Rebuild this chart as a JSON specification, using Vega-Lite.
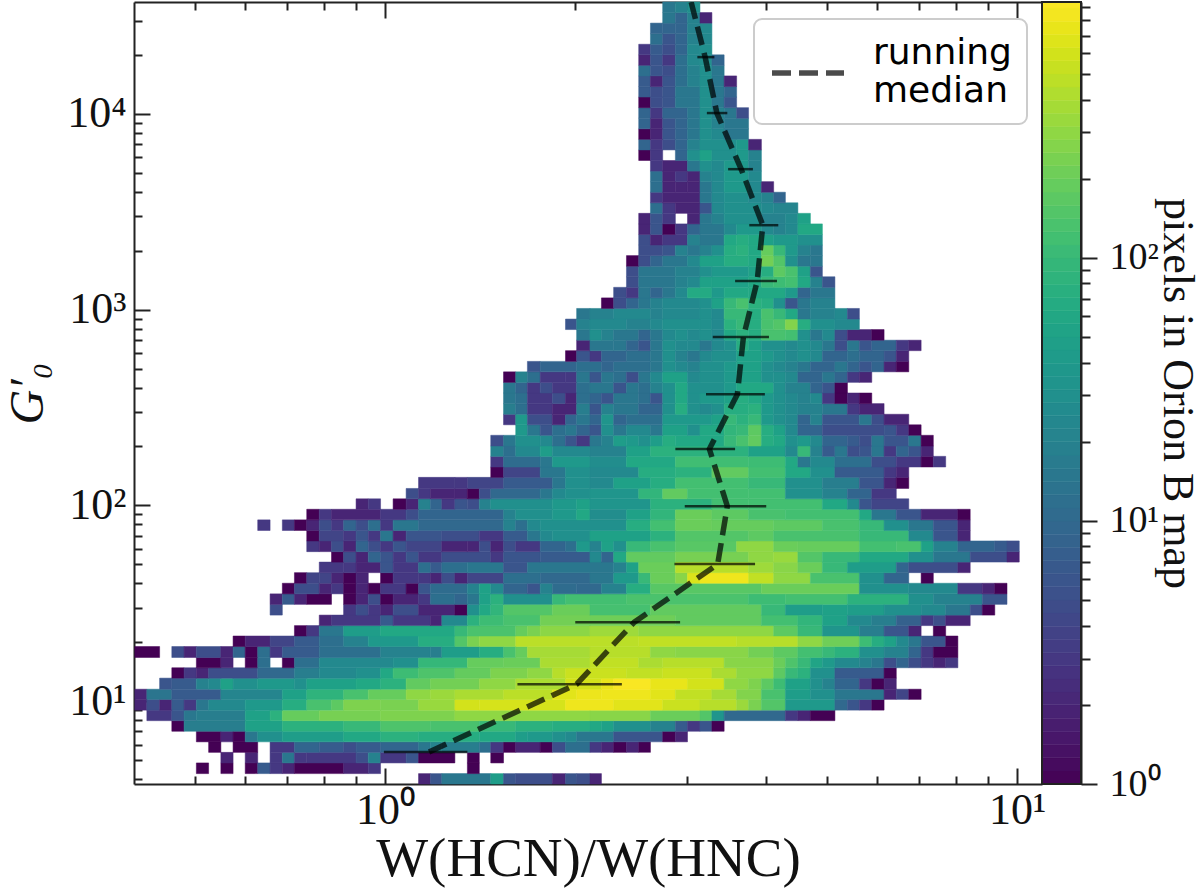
{"$schema":"https://vega.github.io/schema/vega-lite/v6.json","background":"white","autosize":"none","padding":{"left":134,"top":2,"right":119,"bottom":111},"width":947,"height":782,"config":{"view":{"stroke":null},"legend":{"strokeWidth":2},"axis":{"labelFont":"Liberation Serif","titleFont":"Liberation Serif","labelFontSize":44,"titleFontSize":55,"labelColor":"#111","titleColor":"#111","titleFontWeight":"normal","grid":false,"domain":true,"domainColor":"#222","domainWidth":2,"tickColor":"#222","tickWidth":2}},"layer":[{"data":{"values":[
{"x":1.13,"x2":1.18,"y":3.77,"y2":4.26,"n":2},{"x":1.18,"x2":1.23,"y":3.77,"y2":4.26,"n":6},{"x":1.23,"x2":1.47,"y":3.77,"y2":4.26,"n":15},{"x":1.47,"x2":1.54,"y":3.77,"y2":4.26,"n":45},{"x":1.54,"x2":1.61,"y":3.77,"y2":4.26,"n":6},{"x":1.61,"x2":1.84,"y":3.77,"y2":4.26,"n":5},{"x":1.84,"x2":1.93,"y":3.77,"y2":4.26,"n":2},{"x":1.93,"x2":2.01,"y":3.77,"y2":4.26,"n":6},{"x":2.01,"x2":2.11,"y":3.77,"y2":4.26,"n":5},{"x":2.11,"x2":2.2,"y":3.77,"y2":4.26,"n":2},
{"x":0.503,"x2":0.526,"y":4.26,"y2":4.83,"n":1},{"x":0.55,"x2":0.575,"y":4.26,"y2":4.83,"n":1},{"x":0.601,"x2":0.629,"y":4.26,"y2":4.83,"n":1},{"x":0.629,"x2":0.658,"y":4.26,"y2":4.83,"n":7},{"x":0.658,"x2":0.688,"y":4.26,"y2":4.83,"n":3},{"x":0.688,"x2":0.719,"y":4.26,"y2":4.83,"n":2},{"x":0.719,"x2":0.86,"y":4.26,"y2":4.83,"n":1},{"x":0.86,"x2":0.941,"y":4.26,"y2":4.83,"n":2},{"x":0.941,"x2":0.984,"y":4.26,"y2":4.83,"n":3},{"x":1.35,"x2":1.41,"y":4.26,"y2":4.83,"n":1},
{"x":0.55,"x2":0.575,"y":4.83,"y2":5.47,"n":2},{"x":0.601,"x2":0.629,"y":4.83,"y2":5.47,"n":2},{"x":0.658,"x2":0.688,"y":4.83,"y2":5.47,"n":3},{"x":0.688,"x2":0.719,"y":4.83,"y2":5.47,"n":15},{"x":0.719,"x2":0.752,"y":4.83,"y2":5.47,"n":3},{"x":0.752,"x2":0.9,"y":4.83,"y2":5.47,"n":3},{"x":0.9,"x2":0.941,"y":4.83,"y2":5.47,"n":5},{"x":0.941,"x2":0.984,"y":4.83,"y2":5.47,"n":20},{"x":0.984,"x2":1.08,"y":4.83,"y2":5.47,"n":3},{"x":1.08,"x2":1.13,"y":4.83,"y2":5.47,"n":6},{"x":1.13,"x2":1.29,"y":4.83,"y2":5.47,"n":1},{"x":1.35,"x2":1.41,"y":4.83,"y2":5.47,"n":1},{"x":1.47,"x2":1.54,"y":4.83,"y2":5.47,"n":1},
{"x":0.526,"x2":0.55,"y":5.47,"y2":6.19,"n":1},{"x":0.575,"x2":0.629,"y":5.47,"y2":6.19,"n":1},{"x":0.658,"x2":0.719,"y":5.47,"y2":6.19,"n":3},{"x":0.719,"x2":0.787,"y":5.47,"y2":6.19,"n":9},{"x":0.787,"x2":0.86,"y":5.47,"y2":6.19,"n":7},{"x":0.86,"x2":0.9,"y":5.47,"y2":6.19,"n":5},{"x":0.9,"x2":0.984,"y":5.47,"y2":6.19,"n":7},{"x":0.984,"x2":1.13,"y":5.47,"y2":6.19,"n":9},{"x":1.13,"x2":1.18,"y":5.47,"y2":6.19,"n":15},{"x":1.18,"x2":1.23,"y":5.47,"y2":6.19,"n":20},{"x":1.23,"x2":1.41,"y":5.47,"y2":6.19,"n":18},{"x":1.41,"x2":1.47,"y":5.47,"y2":6.19,"n":12},{"x":1.47,"x2":1.54,"y":5.47,"y2":6.19,"n":3},{"x":1.54,"x2":1.61,"y":5.47,"y2":6.19,"n":1},{"x":1.61,"x2":1.76,"y":5.47,"y2":6.19,"n":2},{"x":1.76,"x2":1.84,"y":5.47,"y2":6.19,"n":1},{"x":1.84,"x2":1.93,"y":5.47,"y2":6.19,"n":5},{"x":1.93,"x2":2.11,"y":5.47,"y2":6.19,"n":12},{"x":2.11,"x2":2.2,"y":5.47,"y2":6.19,"n":3},{"x":2.2,"x2":2.3,"y":5.47,"y2":6.19,"n":2},{"x":2.3,"x2":2.41,"y":5.47,"y2":6.19,"n":1},{"x":2.41,"x2":2.52,"y":5.47,"y2":6.19,"n":2},{"x":2.52,"x2":2.63,"y":5.47,"y2":6.19,"n":1},
{"x":0.503,"x2":0.55,"y":6.19,"y2":7.01,"n":1},{"x":0.55,"x2":0.575,"y":6.19,"y2":7.01,"n":2},{"x":0.575,"x2":0.601,"y":6.19,"y2":7.01,"n":1},{"x":0.601,"x2":0.629,"y":6.19,"y2":7.01,"n":15},{"x":0.629,"x2":0.688,"y":6.19,"y2":7.01,"n":30},{"x":0.688,"x2":0.86,"y":6.19,"y2":7.01,"n":45},{"x":0.86,"x2":0.984,"y":6.19,"y2":7.01,"n":60},{"x":0.984,"x2":1.13,"y":6.19,"y2":7.01,"n":80},{"x":1.13,"x2":1.41,"y":6.19,"y2":7.01,"n":70},{"x":1.41,"x2":1.61,"y":6.19,"y2":7.01,"n":60},{"x":1.61,"x2":1.68,"y":6.19,"y2":7.01,"n":45},{"x":1.68,"x2":1.84,"y":6.19,"y2":7.01,"n":40},{"x":1.84,"x2":1.93,"y":6.19,"y2":7.01,"n":30},{"x":1.93,"x2":2.01,"y":6.19,"y2":7.01,"n":25},{"x":2.01,"x2":2.3,"y":6.19,"y2":7.01,"n":15},{"x":2.3,"x2":2.75,"y":6.19,"y2":7.01,"n":6},{"x":2.75,"x2":2.88,"y":6.19,"y2":7.01,"n":1},{"x":2.88,"x2":3.01,"y":6.19,"y2":7.01,"n":2},
{"x":0.46,"x2":0.481,"y":7.01,"y2":7.94,"n":1},{"x":0.481,"x2":0.601,"y":7.01,"y2":7.94,"n":18},{"x":0.601,"x2":0.688,"y":7.01,"y2":7.94,"n":50},{"x":0.688,"x2":0.86,"y":7.01,"y2":7.94,"n":80},{"x":0.86,"x2":0.984,"y":7.01,"y2":7.94,"n":100},{"x":0.984,"x2":1.18,"y":7.01,"y2":7.94,"n":140},{"x":1.18,"x2":1.41,"y":7.01,"y2":7.94,"n":130},{"x":1.41,"x2":1.61,"y":7.01,"y2":7.94,"n":100},{"x":1.61,"x2":1.84,"y":7.01,"y2":7.94,"n":80},{"x":1.84,"x2":2.11,"y":7.01,"y2":7.94,"n":70},{"x":2.11,"x2":2.2,"y":7.01,"y2":7.94,"n":60},{"x":2.2,"x2":2.3,"y":7.01,"y2":7.94,"n":50},{"x":2.3,"x2":2.63,"y":7.01,"y2":7.94,"n":30},{"x":2.63,"x2":2.88,"y":7.01,"y2":7.94,"n":20},{"x":2.88,"x2":3.01,"y":7.01,"y2":7.94,"n":7},{"x":3.01,"x2":3.15,"y":7.01,"y2":7.94,"n":3},{"x":3.15,"x2":3.29,"y":7.01,"y2":7.94,"n":6},{"x":3.29,"x2":3.44,"y":7.01,"y2":7.94,"n":1},
{"x":0.42,"x2":0.46,"y":7.94,"y2":8.99,"n":3},{"x":0.46,"x2":0.481,"y":7.94,"y2":8.99,"n":6},{"x":0.481,"x2":0.503,"y":7.94,"y2":8.99,"n":15},{"x":0.503,"x2":0.601,"y":7.94,"y2":8.99,"n":18},{"x":0.601,"x2":0.658,"y":7.94,"y2":8.99,"n":50},{"x":0.658,"x2":0.688,"y":7.94,"y2":8.99,"n":80},{"x":0.688,"x2":0.787,"y":7.94,"y2":8.99,"n":190},{"x":0.787,"x2":0.984,"y":7.94,"y2":8.99,"n":230},{"x":0.984,"x2":1.29,"y":7.94,"y2":8.99,"n":250},{"x":1.29,"x2":2.11,"y":7.94,"y2":8.99,"n":300},{"x":2.11,"x2":2.63,"y":7.94,"y2":8.99,"n":280},{"x":2.63,"x2":3.15,"y":7.94,"y2":8.99,"n":200},{"x":3.15,"x2":3.29,"y":7.94,"y2":8.99,"n":150},{"x":3.29,"x2":3.44,"y":7.94,"y2":8.99,"n":35},{"x":3.44,"x2":4.3,"y":7.94,"y2":8.99,"n":10},{"x":4.3,"x2":4.5,"y":7.94,"y2":8.99,"n":3},{"x":4.5,"x2":4.71,"y":7.94,"y2":8.99,"n":2},{"x":4.71,"x2":5.15,"y":7.94,"y2":8.99,"n":1},
{"x":0.402,"x2":0.42,"y":8.99,"y2":10.2,"n":2},{"x":0.42,"x2":0.44,"y":8.99,"y2":10.2,"n":5},{"x":0.44,"x2":0.46,"y":8.99,"y2":10.2,"n":2},{"x":0.46,"x2":0.481,"y":8.99,"y2":10.2,"n":7},{"x":0.481,"x2":0.503,"y":8.99,"y2":10.2,"n":3},{"x":0.503,"x2":0.526,"y":8.99,"y2":10.2,"n":15},{"x":0.526,"x2":0.601,"y":8.99,"y2":10.2,"n":25},{"x":0.601,"x2":0.688,"y":8.99,"y2":10.2,"n":40},{"x":0.688,"x2":0.752,"y":8.99,"y2":10.2,"n":70},{"x":0.752,"x2":0.823,"y":8.99,"y2":10.2,"n":130},{"x":0.823,"x2":0.86,"y":8.99,"y2":10.2,"n":170},{"x":0.86,"x2":0.984,"y":8.99,"y2":10.2,"n":250},{"x":0.984,"x2":1.13,"y":8.99,"y2":10.2,"n":240},{"x":1.13,"x2":1.29,"y":8.99,"y2":10.2,"n":330},{"x":1.29,"x2":1.41,"y":8.99,"y2":10.2,"n":600},{"x":1.41,"x2":1.93,"y":8.99,"y2":10.2,"n":620},{"x":1.93,"x2":2.3,"y":8.99,"y2":10.2,"n":800},{"x":2.3,"x2":2.75,"y":8.99,"y2":10.2,"n":700},{"x":2.75,"x2":3.15,"y":8.99,"y2":10.2,"n":550},{"x":3.15,"x2":3.6,"y":8.99,"y2":10.2,"n":450},{"x":3.6,"x2":3.76,"y":8.99,"y2":10.2,"n":340},{"x":3.76,"x2":3.94,"y":8.99,"y2":10.2,"n":240},{"x":3.94,"x2":4.3,"y":8.99,"y2":10.2,"n":150},{"x":4.3,"x2":5.15,"y":8.99,"y2":10.2,"n":40},{"x":5.15,"x2":5.39,"y":8.99,"y2":10.2,"n":10},{"x":5.39,"x2":5.63,"y":8.99,"y2":10.2,"n":6},{"x":5.63,"x2":5.89,"y":8.99,"y2":10.2,"n":3},{"x":5.89,"x2":6.16,"y":8.99,"y2":10.2,"n":1},
{"x":0.402,"x2":0.42,"y":10.2,"y2":11.5,"n":2},{"x":0.42,"x2":0.46,"y":10.2,"y2":11.5,"n":14},{"x":0.46,"x2":0.55,"y":10.2,"y2":11.5,"n":7},{"x":0.55,"x2":0.688,"y":10.2,"y2":11.5,"n":22},{"x":0.688,"x2":0.752,"y":10.2,"y2":11.5,"n":50},{"x":0.752,"x2":0.86,"y":10.2,"y2":11.5,"n":85},{"x":0.86,"x2":0.941,"y":10.2,"y2":11.5,"n":130},{"x":0.941,"x2":1.08,"y":10.2,"y2":11.5,"n":190},{"x":1.08,"x2":1.18,"y":10.2,"y2":11.5,"n":300},{"x":1.18,"x2":1.29,"y":10.2,"y2":11.5,"n":340},{"x":1.29,"x2":1.54,"y":10.2,"y2":11.5,"n":400},{"x":1.54,"x2":1.84,"y":10.2,"y2":11.5,"n":470},{"x":1.84,"x2":2.01,"y":10.2,"y2":11.5,"n":700},{"x":2.01,"x2":2.2,"y":10.2,"y2":11.5,"n":780},{"x":2.2,"x2":2.63,"y":10.2,"y2":11.5,"n":800},{"x":2.63,"x2":2.88,"y":10.2,"y2":11.5,"n":700},{"x":2.88,"x2":3.29,"y":10.2,"y2":11.5,"n":500},{"x":3.29,"x2":3.6,"y":10.2,"y2":11.5,"n":380},{"x":3.6,"x2":3.94,"y":10.2,"y2":11.5,"n":260},{"x":3.94,"x2":4.3,"y":10.2,"y2":11.5,"n":130},{"x":4.3,"x2":4.71,"y":10.2,"y2":11.5,"n":45},{"x":4.71,"x2":5.15,"y":10.2,"y2":11.5,"n":30},{"x":5.15,"x2":6.16,"y":10.2,"y2":11.5,"n":15},{"x":6.16,"x2":6.44,"y":10.2,"y2":11.5,"n":2},{"x":6.44,"x2":6.74,"y":10.2,"y2":11.5,"n":4},{"x":6.74,"x2":7.05,"y":10.2,"y2":11.5,"n":1},
{"x":0.44,"x2":0.46,"y":11.5,"y2":13.1,"n":6},{"x":0.46,"x2":0.503,"y":11.5,"y2":13.1,"n":7},{"x":0.503,"x2":0.526,"y":11.5,"y2":13.1,"n":20},{"x":0.526,"x2":0.55,"y":11.5,"y2":13.1,"n":25},{"x":0.55,"x2":0.575,"y":11.5,"y2":13.1,"n":50},{"x":0.575,"x2":0.629,"y":11.5,"y2":13.1,"n":30},{"x":0.629,"x2":0.719,"y":11.5,"y2":13.1,"n":40},{"x":0.719,"x2":0.752,"y":11.5,"y2":13.1,"n":30},{"x":0.752,"x2":0.9,"y":11.5,"y2":13.1,"n":50},{"x":0.9,"x2":0.984,"y":11.5,"y2":13.1,"n":60},{"x":0.984,"x2":1.08,"y":11.5,"y2":13.1,"n":80},{"x":1.08,"x2":1.18,"y":11.5,"y2":13.1,"n":180},{"x":1.18,"x2":1.41,"y":11.5,"y2":13.1,"n":220},{"x":1.41,"x2":1.61,"y":11.5,"y2":13.1,"n":300},{"x":1.61,"x2":1.93,"y":11.5,"y2":13.1,"n":400},{"x":1.93,"x2":2.2,"y":11.5,"y2":13.1,"n":600},{"x":2.2,"x2":2.3,"y":11.5,"y2":13.1,"n":750},{"x":2.3,"x2":2.63,"y":11.5,"y2":13.1,"n":900},{"x":2.63,"x2":3.01,"y":11.5,"y2":13.1,"n":750},{"x":3.01,"x2":3.44,"y":11.5,"y2":13.1,"n":600},{"x":3.44,"x2":3.76,"y":11.5,"y2":13.1,"n":300},{"x":3.76,"x2":3.94,"y":11.5,"y2":13.1,"n":250},{"x":3.94,"x2":4.12,"y":11.5,"y2":13.1,"n":170},{"x":4.12,"x2":4.3,"y":11.5,"y2":13.1,"n":110},{"x":4.3,"x2":4.71,"y":11.5,"y2":13.1,"n":50},{"x":4.71,"x2":4.92,"y":11.5,"y2":13.1,"n":30},{"x":4.92,"x2":5.15,"y":11.5,"y2":13.1,"n":20},{"x":5.15,"x2":5.63,"y":11.5,"y2":13.1,"n":9},{"x":5.63,"x2":5.89,"y":11.5,"y2":13.1,"n":3},{"x":5.89,"x2":6.16,"y":11.5,"y2":13.1,"n":1},{"x":6.16,"x2":6.44,"y":11.5,"y2":13.1,"n":2},
{"x":0.46,"x2":0.481,"y":13.1,"y2":14.8,"n":1},{"x":0.481,"x2":0.503,"y":13.1,"y2":14.8,"n":3},{"x":0.503,"x2":0.526,"y":13.1,"y2":14.8,"n":2},{"x":0.526,"x2":0.629,"y":13.1,"y2":14.8,"n":5},{"x":0.629,"x2":0.719,"y":13.1,"y2":14.8,"n":10},{"x":0.719,"x2":0.787,"y":13.1,"y2":14.8,"n":18},{"x":0.787,"x2":0.9,"y":13.1,"y2":14.8,"n":25},{"x":0.9,"x2":0.984,"y":13.1,"y2":14.8,"n":30},{"x":0.984,"x2":1.03,"y":13.1,"y2":14.8,"n":60},{"x":1.03,"x2":1.13,"y":13.1,"y2":14.8,"n":110},{"x":1.13,"x2":1.29,"y":13.1,"y2":14.8,"n":140},{"x":1.29,"x2":1.47,"y":13.1,"y2":14.8,"n":185},{"x":1.47,"x2":1.68,"y":13.1,"y2":14.8,"n":250},{"x":1.68,"x2":1.84,"y":13.1,"y2":14.8,"n":300},{"x":1.84,"x2":1.93,"y":13.1,"y2":14.8,"n":450},{"x":1.93,"x2":2.41,"y":13.1,"y2":14.8,"n":550},{"x":2.41,"x2":2.75,"y":13.1,"y2":14.8,"n":500},{"x":2.75,"x2":3.29,"y":13.1,"y2":14.8,"n":550},{"x":3.29,"x2":3.6,"y":13.1,"y2":14.8,"n":400},{"x":3.6,"x2":4.12,"y":13.1,"y2":14.8,"n":300},{"x":4.12,"x2":4.3,"y":13.1,"y2":14.8,"n":170},{"x":4.3,"x2":4.5,"y":13.1,"y2":14.8,"n":100},{"x":4.5,"x2":4.71,"y":13.1,"y2":14.8,"n":80},{"x":4.71,"x2":5.15,"y":13.1,"y2":14.8,"n":30},{"x":5.15,"x2":6.16,"y":13.1,"y2":14.8,"n":7},{"x":6.16,"x2":6.44,"y":13.1,"y2":14.8,"n":1},
{"x":0.503,"x2":0.55,"y":14.8,"y2":16.7,"n":1},{"x":0.55,"x2":0.575,"y":14.8,"y2":16.7,"n":2},{"x":0.601,"x2":0.629,"y":14.8,"y2":16.7,"n":1},{"x":0.629,"x2":0.658,"y":14.8,"y2":16.7,"n":12},{"x":0.688,"x2":0.719,"y":14.8,"y2":16.7,"n":1},{"x":0.719,"x2":0.787,"y":14.8,"y2":16.7,"n":12},{"x":0.787,"x2":1.03,"y":14.8,"y2":16.7,"n":25},{"x":1.03,"x2":1.13,"y":14.8,"y2":16.7,"n":30},{"x":1.13,"x2":1.35,"y":14.8,"y2":16.7,"n":95},{"x":1.35,"x2":1.54,"y":14.8,"y2":16.7,"n":190},{"x":1.54,"x2":1.76,"y":14.8,"y2":16.7,"n":200},{"x":1.76,"x2":2.11,"y":14.8,"y2":16.7,"n":400},{"x":2.11,"x2":2.52,"y":14.8,"y2":16.7,"n":500},{"x":2.52,"x2":2.75,"y":14.8,"y2":16.7,"n":400},{"x":2.75,"x2":3.44,"y":14.8,"y2":16.7,"n":450},{"x":3.44,"x2":4.12,"y":14.8,"y2":16.7,"n":280},{"x":4.12,"x2":4.3,"y":14.8,"y2":16.7,"n":200},{"x":4.3,"x2":4.5,"y":14.8,"y2":16.7,"n":140},{"x":4.5,"x2":4.71,"y":14.8,"y2":16.7,"n":100},{"x":4.71,"x2":4.92,"y":14.8,"y2":16.7,"n":55},{"x":4.92,"x2":5.15,"y":14.8,"y2":16.7,"n":40},{"x":5.15,"x2":5.63,"y":14.8,"y2":16.7,"n":25},{"x":5.63,"x2":5.89,"y":14.8,"y2":16.7,"n":20},{"x":5.89,"x2":6.16,"y":14.8,"y2":16.7,"n":15},{"x":6.16,"x2":6.44,"y":14.8,"y2":16.7,"n":5},{"x":6.44,"x2":6.74,"y":14.8,"y2":16.7,"n":9},{"x":6.74,"x2":7.05,"y":14.8,"y2":16.7,"n":5},{"x":7.05,"x2":7.37,"y":14.8,"y2":16.7,"n":3},{"x":7.37,"x2":7.71,"y":14.8,"y2":16.7,"n":2},{"x":7.71,"x2":8.06,"y":14.8,"y2":16.7,"n":3},
{"x":0.402,"x2":0.44,"y":16.7,"y2":19,"n":1},{"x":0.46,"x2":0.481,"y":16.7,"y2":19,"n":5},{"x":0.481,"x2":0.503,"y":16.7,"y2":19,"n":2},{"x":0.503,"x2":0.55,"y":16.7,"y2":19,"n":5},{"x":0.55,"x2":0.575,"y":16.7,"y2":19,"n":2},{"x":0.575,"x2":0.601,"y":16.7,"y2":19,"n":9},{"x":0.601,"x2":0.629,"y":16.7,"y2":19,"n":1},{"x":0.629,"x2":0.658,"y":16.7,"y2":19,"n":12},{"x":0.658,"x2":0.688,"y":16.7,"y2":19,"n":3},{"x":0.688,"x2":0.787,"y":16.7,"y2":19,"n":7},{"x":0.787,"x2":0.984,"y":16.7,"y2":19,"n":12},{"x":0.984,"x2":1.18,"y":16.7,"y2":19,"n":20},{"x":1.18,"x2":1.23,"y":16.7,"y2":19,"n":18},{"x":1.23,"x2":1.41,"y":16.7,"y2":19,"n":45},{"x":1.41,"x2":1.54,"y":16.7,"y2":19,"n":70},{"x":1.54,"x2":1.61,"y":16.7,"y2":19,"n":130},{"x":1.61,"x2":1.68,"y":16.7,"y2":19,"n":190},{"x":1.68,"x2":2.11,"y":16.7,"y2":19,"n":380},{"x":2.11,"x2":2.63,"y":16.7,"y2":19,"n":450},{"x":2.63,"x2":2.88,"y":16.7,"y2":19,"n":300},{"x":2.88,"x2":3.76,"y":16.7,"y2":19,"n":280},{"x":3.76,"x2":4.12,"y":16.7,"y2":19,"n":220},{"x":4.12,"x2":4.5,"y":16.7,"y2":19,"n":170},{"x":4.5,"x2":4.92,"y":16.7,"y2":19,"n":120},{"x":4.92,"x2":5.15,"y":16.7,"y2":19,"n":100},{"x":5.15,"x2":5.63,"y":16.7,"y2":19,"n":80},{"x":5.63,"x2":6.16,"y":16.7,"y2":19,"n":30},{"x":6.16,"x2":6.74,"y":16.7,"y2":19,"n":20},{"x":6.74,"x2":7.05,"y":16.7,"y2":19,"n":9},{"x":7.05,"x2":7.37,"y":16.7,"y2":19,"n":3},{"x":7.37,"x2":8.06,"y":16.7,"y2":19,"n":1},
{"x":0.575,"x2":0.601,"y":19,"y2":21.5,"n":1},{"x":0.601,"x2":0.658,"y":19,"y2":21.5,"n":2},{"x":0.658,"x2":0.719,"y":19,"y2":21.5,"n":4},{"x":0.719,"x2":0.787,"y":19,"y2":21.5,"n":7},{"x":0.787,"x2":0.86,"y":19,"y2":21.5,"n":12},{"x":0.86,"x2":0.941,"y":19,"y2":21.5,"n":20},{"x":0.941,"x2":1.13,"y":19,"y2":21.5,"n":40},{"x":1.13,"x2":1.29,"y":19,"y2":21.5,"n":70},{"x":1.29,"x2":1.35,"y":19,"y2":21.5,"n":150},{"x":1.35,"x2":1.41,"y":19,"y2":21.5,"n":240},{"x":1.41,"x2":1.61,"y":19,"y2":21.5,"n":300},{"x":1.61,"x2":2.52,"y":19,"y2":21.5,"n":470},{"x":2.52,"x2":3.6,"y":19,"y2":21.5,"n":500},{"x":3.6,"x2":4.5,"y":19,"y2":21.5,"n":450},{"x":4.5,"x2":4.92,"y":19,"y2":21.5,"n":300},{"x":4.92,"x2":5.63,"y":19,"y2":21.5,"n":210},{"x":5.63,"x2":5.89,"y":19,"y2":21.5,"n":110},{"x":5.89,"x2":6.16,"y":19,"y2":21.5,"n":70},{"x":6.16,"x2":6.44,"y":19,"y2":21.5,"n":50},{"x":6.44,"x2":6.74,"y":19,"y2":21.5,"n":25},{"x":6.74,"x2":7.05,"y":19,"y2":21.5,"n":15},{"x":7.05,"x2":7.71,"y":19,"y2":21.5,"n":6},{"x":7.71,"x2":8.06,"y":19,"y2":21.5,"n":1},
{"x":0.719,"x2":0.752,"y":21.5,"y2":24.3,"n":1},{"x":0.752,"x2":0.787,"y":21.5,"y2":24.3,"n":3},{"x":0.787,"x2":0.86,"y":21.5,"y2":24.3,"n":15},{"x":0.86,"x2":0.984,"y":21.5,"y2":24.3,"n":45},{"x":0.984,"x2":1.29,"y":21.5,"y2":24.3,"n":60},{"x":1.29,"x2":1.35,"y":21.5,"y2":24.3,"n":100},{"x":1.35,"x2":1.61,"y":21.5,"y2":24.3,"n":135},{"x":1.61,"x2":1.68,"y":21.5,"y2":24.3,"n":190},{"x":1.68,"x2":1.76,"y":21.5,"y2":24.3,"n":240},{"x":1.76,"x2":2.11,"y":21.5,"y2":24.3,"n":290},{"x":2.11,"x2":2.52,"y":21.5,"y2":24.3,"n":350},{"x":2.52,"x2":4.12,"y":21.5,"y2":24.3,"n":300},{"x":4.12,"x2":4.5,"y":21.5,"y2":24.3,"n":170},{"x":4.5,"x2":4.92,"y":21.5,"y2":24.3,"n":100},{"x":4.92,"x2":5.63,"y":21.5,"y2":24.3,"n":35},{"x":5.63,"x2":6.16,"y":21.5,"y2":24.3,"n":18},{"x":6.16,"x2":6.74,"y":21.5,"y2":24.3,"n":6},{"x":6.74,"x2":7.05,"y":21.5,"y2":24.3,"n":2},{"x":7.37,"x2":7.71,"y":21.5,"y2":24.3,"n":1},
{"x":0.787,"x2":0.823,"y":24.3,"y2":27.5,"n":2},{"x":0.823,"x2":0.984,"y":24.3,"y2":27.5,"n":3},{"x":0.984,"x2":1.03,"y":24.3,"y2":27.5,"n":7},{"x":1.03,"x2":1.18,"y":24.3,"y2":27.5,"n":3},{"x":1.18,"x2":1.23,"y":24.3,"y2":27.5,"n":2},{"x":1.23,"x2":1.35,"y":24.3,"y2":27.5,"n":25},{"x":1.35,"x2":1.41,"y":24.3,"y2":27.5,"n":80},{"x":1.41,"x2":1.54,"y":24.3,"y2":27.5,"n":110},{"x":1.54,"x2":1.76,"y":24.3,"y2":27.5,"n":130},{"x":1.76,"x2":2.11,"y":24.3,"y2":27.5,"n":220},{"x":2.11,"x2":2.88,"y":24.3,"y2":27.5,"n":210},{"x":2.88,"x2":3.94,"y":24.3,"y2":27.5,"n":180},{"x":3.94,"x2":4.5,"y":24.3,"y2":27.5,"n":120},{"x":4.5,"x2":4.92,"y":24.3,"y2":27.5,"n":90},{"x":4.92,"x2":5.39,"y":24.3,"y2":27.5,"n":50},{"x":5.39,"x2":5.89,"y":24.3,"y2":27.5,"n":25},{"x":5.89,"x2":6.44,"y":24.3,"y2":27.5,"n":18},{"x":6.44,"x2":7.05,"y":24.3,"y2":27.5,"n":8},{"x":7.05,"x2":7.37,"y":24.3,"y2":27.5,"n":3},{"x":7.37,"x2":7.71,"y":24.3,"y2":27.5,"n":5},{"x":7.71,"x2":8.43,"y":24.3,"y2":27.5,"n":2},
{"x":0.658,"x2":0.688,"y":27.5,"y2":31.2,"n":5},{"x":0.86,"x2":0.9,"y":27.5,"y2":31.2,"n":3},{"x":0.9,"x2":0.941,"y":27.5,"y2":31.2,"n":5},{"x":0.941,"x2":0.984,"y":27.5,"y2":31.2,"n":3},{"x":0.984,"x2":1.03,"y":27.5,"y2":31.2,"n":2},{"x":1.03,"x2":1.13,"y":27.5,"y2":31.2,"n":5},{"x":1.13,"x2":1.29,"y":27.5,"y2":31.2,"n":2},{"x":1.29,"x2":1.35,"y":27.5,"y2":31.2,"n":1},{"x":1.35,"x2":1.41,"y":27.5,"y2":31.2,"n":30},{"x":1.41,"x2":1.47,"y":27.5,"y2":31.2,"n":60},{"x":1.47,"x2":1.54,"y":27.5,"y2":31.2,"n":90},{"x":1.54,"x2":1.84,"y":27.5,"y2":31.2,"n":150},{"x":1.84,"x2":2.11,"y":27.5,"y2":31.2,"n":200},{"x":2.11,"x2":2.63,"y":27.5,"y2":31.2,"n":125},{"x":2.63,"x2":3.94,"y":27.5,"y2":31.2,"n":180},{"x":3.94,"x2":4.3,"y":27.5,"y2":31.2,"n":100},{"x":4.3,"x2":4.92,"y":27.5,"y2":31.2,"n":45},{"x":4.92,"x2":5.39,"y":27.5,"y2":31.2,"n":50},{"x":5.39,"x2":6.16,"y":27.5,"y2":31.2,"n":45},{"x":6.16,"x2":7.05,"y":27.5,"y2":31.2,"n":30},{"x":7.05,"x2":7.71,"y":27.5,"y2":31.2,"n":25},{"x":7.71,"x2":8.43,"y":27.5,"y2":31.2,"n":15},{"x":8.43,"x2":8.81,"y":27.5,"y2":31.2,"n":5},{"x":8.81,"x2":9.22,"y":27.5,"y2":31.2,"n":1},
{"x":0.658,"x2":0.688,"y":31.2,"y2":35.3,"n":2},{"x":0.688,"x2":0.719,"y":31.2,"y2":35.3,"n":7},{"x":0.719,"x2":0.752,"y":31.2,"y2":35.3,"n":2},{"x":0.752,"x2":0.823,"y":31.2,"y2":35.3,"n":1},{"x":0.86,"x2":0.9,"y":31.2,"y2":35.3,"n":1},{"x":0.9,"x2":0.941,"y":31.2,"y2":35.3,"n":2},{"x":0.941,"x2":0.984,"y":31.2,"y2":35.3,"n":5},{"x":0.984,"x2":1.03,"y":31.2,"y2":35.3,"n":1},{"x":1.03,"x2":1.13,"y":31.2,"y2":35.3,"n":2},{"x":1.13,"x2":1.18,"y":31.2,"y2":35.3,"n":3},{"x":1.18,"x2":1.29,"y":31.2,"y2":35.3,"n":12},{"x":1.29,"x2":1.35,"y":31.2,"y2":35.3,"n":9},{"x":1.35,"x2":1.41,"y":31.2,"y2":35.3,"n":15},{"x":1.41,"x2":1.47,"y":31.2,"y2":35.3,"n":50},{"x":1.47,"x2":1.54,"y":31.2,"y2":35.3,"n":80},{"x":1.54,"x2":1.84,"y":31.2,"y2":35.3,"n":30},{"x":1.84,"x2":1.93,"y":31.2,"y2":35.3,"n":100},{"x":1.93,"x2":2.41,"y":31.2,"y2":35.3,"n":120},{"x":2.41,"x2":3.76,"y":31.2,"y2":35.3,"n":135},{"x":3.76,"x2":4.3,"y":31.2,"y2":35.3,"n":110},{"x":4.3,"x2":5.39,"y":31.2,"y2":35.3,"n":120},{"x":5.39,"x2":6.74,"y":31.2,"y2":35.3,"n":80},{"x":6.74,"x2":7.37,"y":31.2,"y2":35.3,"n":30},{"x":7.37,"x2":8.81,"y":31.2,"y2":35.3,"n":20},{"x":8.81,"x2":9.64,"y":31.2,"y2":35.3,"n":6},
{"x":0.688,"x2":0.719,"y":35.3,"y2":40,"n":1},{"x":0.719,"x2":0.787,"y":35.3,"y2":40,"n":5},{"x":0.787,"x2":0.823,"y":35.3,"y2":40,"n":2},{"x":0.823,"x2":0.86,"y":35.3,"y2":40,"n":3},{"x":0.86,"x2":0.9,"y":35.3,"y2":40,"n":1},{"x":0.9,"x2":0.941,"y":35.3,"y2":40,"n":2},{"x":0.941,"x2":0.984,"y":35.3,"y2":40,"n":1},{"x":0.984,"x2":1.08,"y":35.3,"y2":40,"n":3},{"x":1.08,"x2":1.13,"y":35.3,"y2":40,"n":1},{"x":1.13,"x2":1.18,"y":35.3,"y2":40,"n":6},{"x":1.18,"x2":1.35,"y":35.3,"y2":40,"n":11},{"x":1.35,"x2":1.41,"y":35.3,"y2":40,"n":20},{"x":1.41,"x2":1.47,"y":35.3,"y2":40,"n":50},{"x":1.47,"x2":1.54,"y":35.3,"y2":40,"n":25},{"x":1.54,"x2":1.68,"y":35.3,"y2":40,"n":9},{"x":1.68,"x2":1.76,"y":35.3,"y2":40,"n":6},{"x":1.76,"x2":1.84,"y":35.3,"y2":40,"n":20},{"x":1.84,"x2":2.01,"y":35.3,"y2":40,"n":11},{"x":2.01,"x2":2.2,"y":35.3,"y2":40,"n":10},{"x":2.2,"x2":2.41,"y":35.3,"y2":40,"n":20},{"x":2.41,"x2":2.63,"y":35.3,"y2":40,"n":70},{"x":2.63,"x2":3.94,"y":35.3,"y2":40,"n":160},{"x":3.94,"x2":5.63,"y":35.3,"y2":40,"n":200},{"x":5.63,"x2":6.74,"y":35.3,"y2":40,"n":30},{"x":6.74,"x2":8.06,"y":35.3,"y2":40,"n":25},{"x":8.06,"x2":8.81,"y":35.3,"y2":40,"n":3},{"x":8.81,"x2":9.22,"y":35.3,"y2":40,"n":2},{"x":9.22,"x2":9.64,"y":35.3,"y2":40,"n":1},
{"x":0.719,"x2":0.752,"y":40,"y2":45.3,"n":1},{"x":0.752,"x2":0.787,"y":40,"y2":45.3,"n":4},{"x":0.787,"x2":0.823,"y":40,"y2":45.3,"n":4},{"x":0.823,"x2":0.86,"y":40,"y2":45.3,"n":2},{"x":0.86,"x2":0.9,"y":40,"y2":45.3,"n":1},{"x":0.9,"x2":0.941,"y":40,"y2":45.3,"n":2},{"x":0.984,"x2":1.03,"y":40,"y2":45.3,"n":1},{"x":1.03,"x2":1.13,"y":40,"y2":45.3,"n":3},{"x":1.13,"x2":1.18,"y":40,"y2":45.3,"n":3},{"x":1.18,"x2":1.23,"y":40,"y2":45.3,"n":2},{"x":1.23,"x2":1.29,"y":40,"y2":45.3,"n":5},{"x":1.29,"x2":1.35,"y":40,"y2":45.3,"n":2},{"x":1.35,"x2":1.54,"y":40,"y2":45.3,"n":4},{"x":1.54,"x2":1.76,"y":40,"y2":45.3,"n":12},{"x":1.76,"x2":2.11,"y":40,"y2":45.3,"n":10},{"x":2.11,"x2":2.3,"y":40,"y2":45.3,"n":15},{"x":2.3,"x2":2.52,"y":40,"y2":45.3,"n":40},{"x":2.52,"x2":2.63,"y":40,"y2":45.3,"n":100},{"x":2.63,"x2":2.88,"y":40,"y2":45.3,"n":200},{"x":2.88,"x2":3.01,"y":40,"y2":45.3,"n":280},{"x":3.01,"x2":3.15,"y":40,"y2":45.3,"n":650},{"x":3.15,"x2":3.76,"y":40,"y2":45.3,"n":800},{"x":3.76,"x2":4.12,"y":40,"y2":45.3,"n":500},{"x":4.12,"x2":4.71,"y":40,"y2":45.3,"n":300},{"x":4.71,"x2":5.63,"y":40,"y2":45.3,"n":130},{"x":5.63,"x2":6.16,"y":40,"y2":45.3,"n":30},{"x":6.16,"x2":6.74,"y":40,"y2":45.3,"n":9},{"x":7.05,"x2":7.37,"y":40,"y2":45.3,"n":1},
{"x":0.787,"x2":0.86,"y":45.3,"y2":51.3,"n":3},{"x":0.86,"x2":0.9,"y":45.3,"y2":51.3,"n":3},{"x":0.9,"x2":0.984,"y":45.3,"y2":51.3,"n":2},{"x":0.984,"x2":1.03,"y":45.3,"y2":51.3,"n":6},{"x":1.03,"x2":1.13,"y":45.3,"y2":51.3,"n":3},{"x":1.13,"x2":1.18,"y":45.3,"y2":51.3,"n":12},{"x":1.18,"x2":1.23,"y":45.3,"y2":51.3,"n":7},{"x":1.23,"x2":1.35,"y":45.3,"y2":51.3,"n":12},{"x":1.35,"x2":1.54,"y":45.3,"y2":51.3,"n":15},{"x":1.54,"x2":1.68,"y":45.3,"y2":51.3,"n":6},{"x":1.68,"x2":2.3,"y":45.3,"y2":51.3,"n":15},{"x":2.3,"x2":2.41,"y":45.3,"y2":51.3,"n":20},{"x":2.41,"x2":2.52,"y":45.3,"y2":51.3,"n":50},{"x":2.52,"x2":2.88,"y":45.3,"y2":51.3,"n":200},{"x":2.88,"x2":3.76,"y":45.3,"y2":51.3,"n":450},{"x":3.76,"x2":4.12,"y":45.3,"y2":51.3,"n":350},{"x":4.12,"x2":4.5,"y":45.3,"y2":51.3,"n":280},{"x":4.5,"x2":4.92,"y":45.3,"y2":51.3,"n":200},{"x":4.92,"x2":5.39,"y":45.3,"y2":51.3,"n":100},{"x":5.39,"x2":6.44,"y":45.3,"y2":51.3,"n":45},{"x":6.44,"x2":6.74,"y":45.3,"y2":51.3,"n":9},{"x":6.74,"x2":8.06,"y":45.3,"y2":51.3,"n":5},{"x":8.06,"x2":8.43,"y":45.3,"y2":51.3,"n":2},
{"x":0.823,"x2":0.86,"y":51.3,"y2":58,"n":1},{"x":0.86,"x2":0.9,"y":51.3,"y2":58,"n":5},{"x":0.9,"x2":0.941,"y":51.3,"y2":58,"n":2},{"x":0.941,"x2":0.984,"y":51.3,"y2":58,"n":9},{"x":0.984,"x2":1.03,"y":51.3,"y2":58,"n":6},{"x":1.03,"x2":1.08,"y":51.3,"y2":58,"n":3},{"x":1.08,"x2":1.13,"y":51.3,"y2":58,"n":6},{"x":1.13,"x2":1.23,"y":51.3,"y2":58,"n":3},{"x":1.23,"x2":1.47,"y":51.3,"y2":58,"n":5},{"x":1.47,"x2":1.54,"y":51.3,"y2":58,"n":3},{"x":1.54,"x2":1.76,"y":51.3,"y2":58,"n":6},{"x":1.76,"x2":2.11,"y":51.3,"y2":58,"n":7},{"x":2.11,"x2":2.2,"y":51.3,"y2":58,"n":25},{"x":2.2,"x2":2.3,"y":51.3,"y2":58,"n":9},{"x":2.3,"x2":2.41,"y":51.3,"y2":58,"n":60},{"x":2.41,"x2":2.88,"y":51.3,"y2":58,"n":180},{"x":2.88,"x2":3.76,"y":51.3,"y2":58,"n":230},{"x":3.76,"x2":4.12,"y":51.3,"y2":58,"n":300},{"x":4.12,"x2":4.5,"y":51.3,"y2":58,"n":330},{"x":4.5,"x2":4.92,"y":51.3,"y2":58,"n":150},{"x":4.92,"x2":5.63,"y":51.3,"y2":58,"n":100},{"x":5.63,"x2":6.74,"y":51.3,"y2":58,"n":60},{"x":6.74,"x2":7.37,"y":51.3,"y2":58,"n":30},{"x":7.37,"x2":8.43,"y":51.3,"y2":58,"n":15},{"x":8.43,"x2":9.64,"y":51.3,"y2":58,"n":5},{"x":9.64,"x2":10.08,"y":51.3,"y2":58,"n":2},
{"x":0.752,"x2":0.787,"y":58,"y2":65.8,"n":3},{"x":0.787,"x2":0.823,"y":58,"y2":65.8,"n":2},{"x":0.823,"x2":0.86,"y":58,"y2":65.8,"n":5},{"x":0.86,"x2":0.9,"y":58,"y2":65.8,"n":2},{"x":0.9,"x2":0.941,"y":58,"y2":65.8,"n":9},{"x":0.941,"x2":0.984,"y":58,"y2":65.8,"n":5},{"x":0.984,"x2":1.03,"y":58,"y2":65.8,"n":3},{"x":1.03,"x2":1.08,"y":58,"y2":65.8,"n":6},{"x":1.08,"x2":1.23,"y":58,"y2":65.8,"n":4},{"x":1.23,"x2":1.35,"y":58,"y2":65.8,"n":2},{"x":1.35,"x2":1.41,"y":58,"y2":65.8,"n":2},{"x":1.41,"x2":1.47,"y":58,"y2":65.8,"n":5},{"x":1.47,"x2":1.54,"y":58,"y2":65.8,"n":2},{"x":1.54,"x2":1.61,"y":58,"y2":65.8,"n":5},{"x":1.61,"x2":1.76,"y":58,"y2":65.8,"n":3},{"x":1.76,"x2":1.93,"y":58,"y2":65.8,"n":9},{"x":1.93,"x2":2.01,"y":58,"y2":65.8,"n":12},{"x":2.01,"x2":2.11,"y":58,"y2":65.8,"n":40},{"x":2.11,"x2":2.2,"y":58,"y2":65.8,"n":20},{"x":2.2,"x2":2.3,"y":58,"y2":65.8,"n":50},{"x":2.3,"x2":2.41,"y":58,"y2":65.8,"n":30},{"x":2.41,"x2":2.63,"y":58,"y2":65.8,"n":100},{"x":2.63,"x2":2.88,"y":58,"y2":65.8,"n":130},{"x":2.88,"x2":3.6,"y":58,"y2":65.8,"n":160},{"x":3.6,"x2":4.12,"y":58,"y2":65.8,"n":300},{"x":4.12,"x2":4.5,"y":58,"y2":65.8,"n":200},{"x":4.5,"x2":5.63,"y":58,"y2":65.8,"n":190},{"x":5.63,"x2":6.44,"y":58,"y2":65.8,"n":120},{"x":6.44,"x2":7.05,"y":58,"y2":65.8,"n":130},{"x":7.05,"x2":7.37,"y":58,"y2":65.8,"n":50},{"x":7.37,"x2":8.06,"y":58,"y2":65.8,"n":20},{"x":8.06,"x2":9.22,"y":58,"y2":65.8,"n":9},{"x":9.22,"x2":9.64,"y":58,"y2":65.8,"n":7},{"x":9.64,"x2":10.08,"y":58,"y2":65.8,"n":5},
{"x":0.752,"x2":0.787,"y":65.8,"y2":74.4,"n":1},{"x":0.787,"x2":0.86,"y":65.8,"y2":74.4,"n":4},{"x":0.86,"x2":0.9,"y":65.8,"y2":74.4,"n":3},{"x":0.9,"x2":0.941,"y":65.8,"y2":74.4,"n":6},{"x":0.941,"x2":0.984,"y":65.8,"y2":74.4,"n":3},{"x":0.984,"x2":1.03,"y":65.8,"y2":74.4,"n":15},{"x":1.03,"x2":1.08,"y":65.8,"y2":74.4,"n":2},{"x":1.08,"x2":1.23,"y":65.8,"y2":74.4,"n":6},{"x":1.23,"x2":1.41,"y":65.8,"y2":74.4,"n":5},{"x":1.41,"x2":1.54,"y":65.8,"y2":74.4,"n":3},{"x":1.54,"x2":1.68,"y":65.8,"y2":74.4,"n":7},{"x":1.68,"x2":1.76,"y":65.8,"y2":74.4,"n":15},{"x":1.76,"x2":1.84,"y":65.8,"y2":74.4,"n":25},{"x":1.84,"x2":2.11,"y":65.8,"y2":74.4,"n":30},{"x":2.11,"x2":2.63,"y":65.8,"y2":74.4,"n":50},{"x":2.63,"x2":2.88,"y":65.8,"y2":74.4,"n":80},{"x":2.88,"x2":3.76,"y":65.8,"y2":74.4,"n":150},{"x":3.76,"x2":4.12,"y":65.8,"y2":74.4,"n":170},{"x":4.12,"x2":5.63,"y":65.8,"y2":74.4,"n":130},{"x":5.63,"x2":6.74,"y":65.8,"y2":74.4,"n":100},{"x":6.74,"x2":7.37,"y":65.8,"y2":74.4,"n":25},{"x":7.37,"x2":8.06,"y":65.8,"y2":74.4,"n":6},{"x":8.06,"x2":8.43,"y":65.8,"y2":74.4,"n":2},
{"x":0.629,"x2":0.658,"y":74.4,"y2":84.3,"n":3},{"x":0.688,"x2":0.719,"y":74.4,"y2":84.3,"n":3},{"x":0.719,"x2":0.752,"y":74.4,"y2":84.3,"n":1},{"x":0.752,"x2":0.787,"y":74.4,"y2":84.3,"n":2},{"x":0.787,"x2":0.823,"y":74.4,"y2":84.3,"n":5},{"x":0.823,"x2":0.86,"y":74.4,"y2":84.3,"n":3},{"x":0.86,"x2":0.9,"y":74.4,"y2":84.3,"n":9},{"x":0.9,"x2":0.941,"y":74.4,"y2":84.3,"n":5},{"x":0.941,"x2":0.984,"y":74.4,"y2":84.3,"n":12},{"x":0.984,"x2":1.03,"y":74.4,"y2":84.3,"n":3},{"x":1.03,"x2":1.13,"y":74.4,"y2":84.3,"n":15},{"x":1.13,"x2":1.54,"y":74.4,"y2":84.3,"n":10},{"x":1.54,"x2":1.61,"y":74.4,"y2":84.3,"n":20},{"x":1.61,"x2":1.68,"y":74.4,"y2":84.3,"n":12},{"x":1.68,"x2":1.76,"y":74.4,"y2":84.3,"n":25},{"x":1.76,"x2":2.41,"y":74.4,"y2":84.3,"n":30},{"x":2.41,"x2":2.63,"y":74.4,"y2":84.3,"n":70},{"x":2.63,"x2":2.88,"y":74.4,"y2":84.3,"n":120},{"x":2.88,"x2":3.29,"y":74.4,"y2":84.3,"n":200},{"x":3.29,"x2":4.12,"y":74.4,"y2":84.3,"n":190},{"x":4.12,"x2":4.92,"y":74.4,"y2":84.3,"n":170},{"x":4.92,"x2":5.63,"y":74.4,"y2":84.3,"n":130},{"x":5.63,"x2":6.16,"y":74.4,"y2":84.3,"n":100},{"x":6.16,"x2":6.74,"y":74.4,"y2":84.3,"n":30},{"x":6.74,"x2":7.37,"y":74.4,"y2":84.3,"n":15},{"x":7.37,"x2":8.06,"y":74.4,"y2":84.3,"n":6},{"x":8.06,"x2":8.43,"y":74.4,"y2":84.3,"n":2},
{"x":0.752,"x2":0.787,"y":84.3,"y2":95.5,"n":1},{"x":0.787,"x2":0.823,"y":84.3,"y2":95.5,"n":3},{"x":0.823,"x2":0.984,"y":84.3,"y2":95.5,"n":2},{"x":0.984,"x2":1.08,"y":84.3,"y2":95.5,"n":3},{"x":1.08,"x2":1.13,"y":84.3,"y2":95.5,"n":5},{"x":1.13,"x2":1.54,"y":84.3,"y2":95.5,"n":9},{"x":1.54,"x2":1.61,"y":84.3,"y2":95.5,"n":20},{"x":1.61,"x2":1.84,"y":84.3,"y2":95.5,"n":30},{"x":1.84,"x2":2.01,"y":84.3,"y2":95.5,"n":40},{"x":2.01,"x2":2.11,"y":84.3,"y2":95.5,"n":60},{"x":2.11,"x2":2.41,"y":84.3,"y2":95.5,"n":28},{"x":2.41,"x2":2.63,"y":84.3,"y2":95.5,"n":50},{"x":2.63,"x2":2.88,"y":84.3,"y2":95.5,"n":90},{"x":2.88,"x2":3.29,"y":84.3,"y2":95.5,"n":200},{"x":3.29,"x2":3.76,"y":84.3,"y2":95.5,"n":170},{"x":3.76,"x2":4.3,"y":84.3,"y2":95.5,"n":130},{"x":4.3,"x2":5.63,"y":84.3,"y2":95.5,"n":120},{"x":5.63,"x2":5.89,"y":84.3,"y2":95.5,"n":60},{"x":5.89,"x2":6.44,"y":84.3,"y2":95.5,"n":15},{"x":6.44,"x2":7.05,"y":84.3,"y2":95.5,"n":6},{"x":7.05,"x2":8.06,"y":84.3,"y2":95.5,"n":2},{"x":8.06,"x2":8.43,"y":84.3,"y2":95.5,"n":1},
{"x":0.9,"x2":0.941,"y":95.5,"y2":108,"n":2},{"x":0.941,"x2":0.984,"y":95.5,"y2":108,"n":3},{"x":1.03,"x2":1.08,"y":95.5,"y2":108,"n":1},{"x":1.08,"x2":1.13,"y":95.5,"y2":108,"n":2},{"x":1.13,"x2":1.18,"y":95.5,"y2":108,"n":20},{"x":1.18,"x2":1.23,"y":95.5,"y2":108,"n":9},{"x":1.23,"x2":1.29,"y":95.5,"y2":108,"n":3},{"x":1.29,"x2":1.35,"y":95.5,"y2":108,"n":6},{"x":1.35,"x2":1.41,"y":95.5,"y2":108,"n":5},{"x":1.41,"x2":1.47,"y":95.5,"y2":108,"n":20},{"x":1.47,"x2":1.84,"y":95.5,"y2":108,"n":30},{"x":1.84,"x2":2.01,"y":95.5,"y2":108,"n":40},{"x":2.01,"x2":2.11,"y":95.5,"y2":108,"n":50},{"x":2.11,"x2":2.63,"y":95.5,"y2":108,"n":35},{"x":2.63,"x2":3.29,"y":95.5,"y2":108,"n":80},{"x":3.29,"x2":3.76,"y":95.5,"y2":108,"n":120},{"x":3.76,"x2":4.92,"y":95.5,"y2":108,"n":120},{"x":4.92,"x2":5.39,"y":95.5,"y2":108,"n":60},{"x":5.39,"x2":5.63,"y":95.5,"y2":108,"n":25},{"x":5.63,"x2":5.89,"y":95.5,"y2":108,"n":6},{"x":5.89,"x2":6.74,"y":95.5,"y2":108,"n":4},
{"x":1.08,"x2":1.13,"y":108,"y2":122,"n":5},{"x":1.13,"x2":1.18,"y":108,"y2":122,"n":3},{"x":1.18,"x2":1.29,"y":108,"y2":122,"n":2},{"x":1.29,"x2":1.35,"y":108,"y2":122,"n":2},{"x":1.35,"x2":1.41,"y":108,"y2":122,"n":1},{"x":1.41,"x2":1.47,"y":108,"y2":122,"n":5},{"x":1.47,"x2":1.76,"y":108,"y2":122,"n":10},{"x":1.76,"x2":1.84,"y":108,"y2":122,"n":15},{"x":1.84,"x2":1.93,"y":108,"y2":122,"n":25},{"x":1.93,"x2":2.11,"y":108,"y2":122,"n":30},{"x":2.11,"x2":2.52,"y":108,"y2":122,"n":35},{"x":2.52,"x2":2.75,"y":108,"y2":122,"n":90},{"x":2.75,"x2":3.01,"y":108,"y2":122,"n":180},{"x":3.01,"x2":3.76,"y":108,"y2":122,"n":120},{"x":3.76,"x2":4.3,"y":108,"y2":122,"n":120},{"x":4.3,"x2":4.92,"y":108,"y2":122,"n":30},{"x":4.92,"x2":5.39,"y":108,"y2":122,"n":20},{"x":5.39,"x2":5.89,"y":108,"y2":122,"n":9},{"x":5.89,"x2":6.44,"y":108,"y2":122,"n":3},
{"x":1.13,"x2":1.29,"y":122,"y2":139,"n":3},{"x":1.35,"x2":1.54,"y":122,"y2":139,"n":4},{"x":1.29,"x2":1.35,"y":122,"y2":139,"n":3},{"x":1.54,"x2":1.84,"y":122,"y2":139,"n":7},{"x":1.84,"x2":1.93,"y":122,"y2":139,"n":15},{"x":1.93,"x2":2.11,"y":122,"y2":139,"n":30},{"x":2.11,"x2":2.3,"y":122,"y2":139,"n":25},{"x":2.3,"x2":2.63,"y":122,"y2":139,"n":50},{"x":2.63,"x2":2.88,"y":122,"y2":139,"n":70},{"x":2.88,"x2":3.76,"y":122,"y2":139,"n":120},{"x":3.76,"x2":4.3,"y":122,"y2":139,"n":100},{"x":4.3,"x2":4.92,"y":122,"y2":139,"n":30},{"x":4.92,"x2":5.63,"y":122,"y2":139,"n":18},{"x":5.63,"x2":6.16,"y":122,"y2":139,"n":6},{"x":6.16,"x2":6.44,"y":122,"y2":139,"n":2},{"x":6.44,"x2":6.74,"y":122,"y2":139,"n":1},
{"x":1.47,"x2":1.54,"y":139,"y2":157,"n":1},{"x":1.54,"x2":1.76,"y":139,"y2":157,"n":4},{"x":1.76,"x2":1.93,"y":139,"y2":157,"n":15},{"x":1.93,"x2":2.11,"y":139,"y2":157,"n":30},{"x":2.11,"x2":2.52,"y":139,"y2":157,"n":25},{"x":2.52,"x2":2.88,"y":139,"y2":157,"n":70},{"x":2.88,"x2":3.29,"y":139,"y2":157,"n":80},{"x":3.29,"x2":3.76,"y":139,"y2":157,"n":180},{"x":3.76,"x2":4.3,"y":139,"y2":157,"n":120},{"x":4.3,"x2":4.71,"y":139,"y2":157,"n":60},{"x":4.71,"x2":5.15,"y":139,"y2":157,"n":30},{"x":5.15,"x2":6.16,"y":139,"y2":157,"n":7},{"x":6.16,"x2":6.44,"y":139,"y2":157,"n":3},{"x":6.44,"x2":6.74,"y":139,"y2":157,"n":2},
{"x":1.47,"x2":1.54,"y":157,"y2":178,"n":3},{"x":1.54,"x2":1.76,"y":157,"y2":178,"n":11},{"x":1.76,"x2":1.84,"y":157,"y2":178,"n":15},{"x":1.84,"x2":2.11,"y":157,"y2":178,"n":40},{"x":2.11,"x2":2.41,"y":157,"y2":178,"n":28},{"x":2.41,"x2":2.88,"y":157,"y2":178,"n":60},{"x":2.88,"x2":3.76,"y":157,"y2":178,"n":115},{"x":3.76,"x2":4.3,"y":157,"y2":178,"n":110},{"x":4.3,"x2":4.5,"y":157,"y2":178,"n":60},{"x":4.5,"x2":4.71,"y":157,"y2":178,"n":15},{"x":4.71,"x2":5.15,"y":157,"y2":178,"n":25},{"x":5.15,"x2":5.89,"y":157,"y2":178,"n":12},{"x":5.89,"x2":6.44,"y":157,"y2":178,"n":5},{"x":6.44,"x2":7.05,"y":157,"y2":178,"n":3},{"x":7.05,"x2":7.37,"y":157,"y2":178,"n":1},{"x":7.37,"x2":7.71,"y":157,"y2":178,"n":3},
{"x":1.47,"x2":1.54,"y":178,"y2":201,"n":20},{"x":1.54,"x2":1.61,"y":178,"y2":201,"n":12},{"x":1.61,"x2":1.76,"y":178,"y2":201,"n":25},{"x":1.76,"x2":1.84,"y":178,"y2":201,"n":45},{"x":1.84,"x2":2.11,"y":178,"y2":201,"n":25},{"x":2.11,"x2":2.41,"y":178,"y2":201,"n":20},{"x":2.41,"x2":2.63,"y":178,"y2":201,"n":50},{"x":2.63,"x2":3.76,"y":178,"y2":201,"n":80},{"x":3.76,"x2":4.3,"y":178,"y2":201,"n":50},{"x":4.3,"x2":4.5,"y":178,"y2":201,"n":25},{"x":4.5,"x2":4.71,"y":178,"y2":201,"n":100},{"x":4.71,"x2":4.92,"y":178,"y2":201,"n":20},{"x":4.92,"x2":5.15,"y":178,"y2":201,"n":7},{"x":5.15,"x2":5.39,"y":178,"y2":201,"n":15},{"x":5.39,"x2":5.63,"y":178,"y2":201,"n":5},{"x":5.63,"x2":5.89,"y":178,"y2":201,"n":6},{"x":5.89,"x2":6.16,"y":178,"y2":201,"n":15},{"x":6.16,"x2":6.44,"y":178,"y2":201,"n":3},{"x":6.44,"x2":6.74,"y":178,"y2":201,"n":9},{"x":6.74,"x2":7.05,"y":178,"y2":201,"n":6},{"x":7.05,"x2":7.37,"y":178,"y2":201,"n":2},
{"x":1.47,"x2":1.54,"y":201,"y2":228,"n":5},{"x":1.54,"x2":1.61,"y":201,"y2":228,"n":15},{"x":1.61,"x2":1.76,"y":201,"y2":228,"n":30},{"x":1.76,"x2":1.84,"y":201,"y2":228,"n":25},{"x":1.84,"x2":1.93,"y":201,"y2":228,"n":12},{"x":1.93,"x2":2.01,"y":201,"y2":228,"n":6},{"x":2.01,"x2":2.11,"y":201,"y2":228,"n":3},{"x":2.11,"x2":2.2,"y":201,"y2":228,"n":15},{"x":2.2,"x2":2.3,"y":201,"y2":228,"n":20},{"x":2.3,"x2":2.41,"y":201,"y2":228,"n":45},{"x":2.41,"x2":2.52,"y":201,"y2":228,"n":40},{"x":2.52,"x2":2.63,"y":201,"y2":228,"n":30},{"x":2.63,"x2":2.75,"y":201,"y2":228,"n":45},{"x":2.75,"x2":2.88,"y":201,"y2":228,"n":70},{"x":2.88,"x2":3.44,"y":201,"y2":228,"n":60},{"x":3.44,"x2":3.6,"y":201,"y2":228,"n":100},{"x":3.6,"x2":3.76,"y":201,"y2":228,"n":130},{"x":3.76,"x2":3.94,"y":201,"y2":228,"n":180},{"x":3.94,"x2":4.12,"y":201,"y2":228,"n":70},{"x":4.12,"x2":4.3,"y":201,"y2":228,"n":60},{"x":4.3,"x2":4.5,"y":201,"y2":228,"n":30},{"x":4.5,"x2":4.71,"y":201,"y2":228,"n":40},{"x":4.71,"x2":4.92,"y":201,"y2":228,"n":25},{"x":4.92,"x2":5.39,"y":201,"y2":228,"n":9},{"x":5.39,"x2":5.63,"y":201,"y2":228,"n":7},{"x":5.63,"x2":5.89,"y":201,"y2":228,"n":5},{"x":5.89,"x2":6.16,"y":201,"y2":228,"n":15},{"x":6.16,"x2":6.74,"y":201,"y2":228,"n":6},{"x":6.74,"x2":7.05,"y":201,"y2":228,"n":15},{"x":7.05,"x2":7.37,"y":201,"y2":228,"n":1},
{"x":1.61,"x2":1.68,"y":228,"y2":258,"n":40},{"x":1.68,"x2":1.76,"y":228,"y2":258,"n":15},{"x":1.76,"x2":1.84,"y":228,"y2":258,"n":6},{"x":1.84,"x2":1.93,"y":228,"y2":258,"n":12},{"x":1.93,"x2":2.01,"y":228,"y2":258,"n":15},{"x":2.01,"x2":2.11,"y":228,"y2":258,"n":9},{"x":2.11,"x2":2.2,"y":228,"y2":258,"n":6},{"x":2.2,"x2":2.3,"y":228,"y2":258,"n":30},{"x":2.3,"x2":2.41,"y":228,"y2":258,"n":15},{"x":2.41,"x2":2.63,"y":228,"y2":258,"n":25},{"x":2.63,"x2":2.75,"y":228,"y2":258,"n":15},{"x":2.75,"x2":3.01,"y":228,"y2":258,"n":50},{"x":3.01,"x2":3.15,"y":228,"y2":258,"n":30},{"x":3.15,"x2":3.44,"y":228,"y2":258,"n":60},{"x":3.44,"x2":3.6,"y":228,"y2":258,"n":90},{"x":3.6,"x2":3.76,"y":228,"y2":258,"n":100},{"x":3.76,"x2":3.94,"y":228,"y2":258,"n":170},{"x":3.94,"x2":4.12,"y":228,"y2":258,"n":70},{"x":4.12,"x2":4.3,"y":228,"y2":258,"n":50},{"x":4.3,"x2":4.5,"y":228,"y2":258,"n":25},{"x":4.5,"x2":4.92,"y":228,"y2":258,"n":9},{"x":4.92,"x2":6.16,"y":228,"y2":258,"n":5},{"x":6.16,"x2":6.44,"y":228,"y2":258,"n":6},{"x":6.44,"x2":6.74,"y":228,"y2":258,"n":3},{"x":6.74,"x2":7.05,"y":228,"y2":258,"n":1},
{"x":1.54,"x2":1.61,"y":258,"y2":292,"n":3},{"x":1.61,"x2":1.68,"y":258,"y2":292,"n":40},{"x":1.68,"x2":1.84,"y":258,"y2":292,"n":5},{"x":1.84,"x2":1.93,"y":258,"y2":292,"n":2},{"x":1.93,"x2":2.01,"y":258,"y2":292,"n":9},{"x":2.01,"x2":2.11,"y":258,"y2":292,"n":15},{"x":2.11,"x2":2.2,"y":258,"y2":292,"n":9},{"x":2.2,"x2":2.3,"y":258,"y2":292,"n":35},{"x":2.3,"x2":2.41,"y":258,"y2":292,"n":9},{"x":2.41,"x2":2.75,"y":258,"y2":292,"n":12},{"x":2.75,"x2":3.29,"y":258,"y2":292,"n":40},{"x":3.29,"x2":3.44,"y":258,"y2":292,"n":50},{"x":3.44,"x2":3.6,"y":258,"y2":292,"n":100},{"x":3.6,"x2":3.76,"y":258,"y2":292,"n":80},{"x":3.76,"x2":3.94,"y":258,"y2":292,"n":100},{"x":3.94,"x2":4.12,"y":258,"y2":292,"n":40},{"x":4.12,"x2":4.3,"y":258,"y2":292,"n":30},{"x":4.3,"x2":4.5,"y":258,"y2":292,"n":25},{"x":4.5,"x2":4.71,"y":258,"y2":292,"n":9},{"x":4.71,"x2":4.92,"y":258,"y2":292,"n":20},{"x":4.92,"x2":5.63,"y":258,"y2":292,"n":6},{"x":5.63,"x2":5.89,"y":258,"y2":292,"n":15},{"x":5.89,"x2":6.16,"y":258,"y2":292,"n":5},{"x":6.16,"x2":6.74,"y":258,"y2":292,"n":2},
{"x":1.54,"x2":1.61,"y":292,"y2":331,"n":18},{"x":1.61,"x2":1.68,"y":292,"y2":331,"n":12},{"x":1.68,"x2":1.84,"y":292,"y2":331,"n":3},{"x":1.84,"x2":2.01,"y":292,"y2":331,"n":2},{"x":2.01,"x2":2.11,"y":292,"y2":331,"n":18},{"x":2.11,"x2":2.2,"y":292,"y2":331,"n":6},{"x":2.2,"x2":2.3,"y":292,"y2":331,"n":20},{"x":2.3,"x2":2.52,"y":292,"y2":331,"n":15},{"x":2.52,"x2":2.75,"y":292,"y2":331,"n":9},{"x":2.75,"x2":2.88,"y":292,"y2":331,"n":30},{"x":2.88,"x2":3.01,"y":292,"y2":331,"n":70},{"x":3.01,"x2":3.15,"y":292,"y2":331,"n":30},{"x":3.15,"x2":3.29,"y":292,"y2":331,"n":25},{"x":3.29,"x2":3.44,"y":292,"y2":331,"n":30},{"x":3.44,"x2":3.76,"y":292,"y2":331,"n":70},{"x":3.76,"x2":3.94,"y":292,"y2":331,"n":80},{"x":3.94,"x2":4.12,"y":292,"y2":331,"n":40},{"x":4.12,"x2":4.3,"y":292,"y2":331,"n":30},{"x":4.3,"x2":4.5,"y":292,"y2":331,"n":25},{"x":4.5,"x2":4.92,"y":292,"y2":331,"n":20},{"x":4.92,"x2":5.39,"y":292,"y2":331,"n":15},{"x":5.39,"x2":5.63,"y":292,"y2":331,"n":3},{"x":5.63,"x2":6.16,"y":292,"y2":331,"n":2},
{"x":1.54,"x2":1.61,"y":331,"y2":375,"n":15},{"x":1.61,"x2":1.68,"y":331,"y2":375,"n":12},{"x":1.68,"x2":1.84,"y":331,"y2":375,"n":3},{"x":1.84,"x2":1.93,"y":331,"y2":375,"n":5},{"x":1.93,"x2":2.01,"y":331,"y2":375,"n":2},{"x":2.01,"x2":2.11,"y":331,"y2":375,"n":12},{"x":2.11,"x2":2.2,"y":331,"y2":375,"n":9},{"x":2.2,"x2":2.3,"y":331,"y2":375,"n":6},{"x":2.3,"x2":2.52,"y":331,"y2":375,"n":15},{"x":2.52,"x2":2.63,"y":331,"y2":375,"n":12},{"x":2.63,"x2":2.75,"y":331,"y2":375,"n":6},{"x":2.75,"x2":2.88,"y":331,"y2":375,"n":30},{"x":2.88,"x2":3.01,"y":331,"y2":375,"n":60},{"x":3.01,"x2":3.15,"y":331,"y2":375,"n":30},{"x":3.15,"x2":3.44,"y":331,"y2":375,"n":40},{"x":3.44,"x2":3.6,"y":331,"y2":375,"n":50},{"x":3.6,"x2":3.76,"y":331,"y2":375,"n":70},{"x":3.76,"x2":3.94,"y":331,"y2":375,"n":60},{"x":3.94,"x2":4.12,"y":331,"y2":375,"n":40},{"x":4.12,"x2":4.3,"y":331,"y2":375,"n":30},{"x":4.3,"x2":4.5,"y":331,"y2":375,"n":25},{"x":4.5,"x2":4.71,"y":331,"y2":375,"n":20},{"x":4.71,"x2":4.92,"y":331,"y2":375,"n":25},{"x":4.92,"x2":5.15,"y":331,"y2":375,"n":3},{"x":5.15,"x2":5.39,"y":331,"y2":375,"n":1},{"x":5.39,"x2":5.63,"y":331,"y2":375,"n":2},{"x":5.63,"x2":5.89,"y":331,"y2":375,"n":1},
{"x":1.54,"x2":1.61,"y":375,"y2":425,"n":15},{"x":1.61,"x2":1.68,"y":375,"y2":425,"n":9},{"x":1.68,"x2":1.76,"y":375,"y2":425,"n":3},{"x":1.76,"x2":1.84,"y":375,"y2":425,"n":5},{"x":1.84,"x2":2.01,"y":375,"y2":425,"n":3},{"x":2.01,"x2":2.11,"y":375,"y2":425,"n":12},{"x":2.11,"x2":2.3,"y":375,"y2":425,"n":15},{"x":2.3,"x2":2.41,"y":375,"y2":425,"n":6},{"x":2.41,"x2":2.52,"y":375,"y2":425,"n":15},{"x":2.52,"x2":2.63,"y":375,"y2":425,"n":12},{"x":2.63,"x2":2.75,"y":375,"y2":425,"n":20},{"x":2.75,"x2":2.88,"y":375,"y2":425,"n":30},{"x":2.88,"x2":3.01,"y":375,"y2":425,"n":60},{"x":3.01,"x2":3.44,"y":375,"y2":425,"n":30},{"x":3.44,"x2":3.6,"y":375,"y2":425,"n":40},{"x":3.6,"x2":4.12,"y":375,"y2":425,"n":60},{"x":4.12,"x2":4.3,"y":375,"y2":425,"n":30},{"x":4.3,"x2":4.71,"y":375,"y2":425,"n":20},{"x":4.71,"x2":4.92,"y":375,"y2":425,"n":9},{"x":4.92,"x2":5.15,"y":375,"y2":425,"n":6},{"x":5.15,"x2":5.39,"y":375,"y2":425,"n":1},
{"x":1.54,"x2":1.61,"y":425,"y2":481,"n":1},{"x":1.61,"x2":1.68,"y":425,"y2":481,"n":20},{"x":1.68,"x2":1.76,"y":425,"y2":481,"n":12},{"x":1.76,"x2":1.93,"y":425,"y2":481,"n":3},{"x":1.93,"x2":2.01,"y":425,"y2":481,"n":3},{"x":2.01,"x2":2.11,"y":425,"y2":481,"n":15},{"x":2.11,"x2":2.2,"y":425,"y2":481,"n":6},{"x":2.2,"x2":2.3,"y":425,"y2":481,"n":15},{"x":2.3,"x2":2.41,"y":425,"y2":481,"n":12},{"x":2.41,"x2":2.52,"y":425,"y2":481,"n":5},{"x":2.52,"x2":2.63,"y":425,"y2":481,"n":15},{"x":2.63,"x2":2.75,"y":425,"y2":481,"n":25},{"x":2.75,"x2":3.01,"y":425,"y2":481,"n":50},{"x":3.01,"x2":3.15,"y":425,"y2":481,"n":25},{"x":3.15,"x2":3.44,"y":425,"y2":481,"n":30},{"x":3.44,"x2":3.6,"y":425,"y2":481,"n":40},{"x":3.6,"x2":3.94,"y":425,"y2":481,"n":50},{"x":3.94,"x2":4.12,"y":425,"y2":481,"n":30},{"x":4.12,"x2":4.3,"y":425,"y2":481,"n":30},{"x":4.3,"x2":4.5,"y":425,"y2":481,"n":25},{"x":4.5,"x2":4.92,"y":425,"y2":481,"n":9},{"x":4.92,"x2":5.15,"y":425,"y2":481,"n":15},{"x":5.15,"x2":5.39,"y":425,"y2":481,"n":9},{"x":5.39,"x2":5.63,"y":425,"y2":481,"n":3},{"x":5.63,"x2":5.89,"y":425,"y2":481,"n":2},
{"x":1.68,"x2":1.76,"y":481,"y2":544,"n":6},{"x":1.76,"x2":2.01,"y":481,"y2":544,"n":9},{"x":2.01,"x2":2.2,"y":481,"y2":544,"n":12},{"x":2.2,"x2":2.3,"y":481,"y2":544,"n":9},{"x":2.3,"x2":2.63,"y":481,"y2":544,"n":12},{"x":2.63,"x2":2.75,"y":481,"y2":544,"n":15},{"x":2.75,"x2":2.88,"y":481,"y2":544,"n":30},{"x":2.88,"x2":3.01,"y":481,"y2":544,"n":25},{"x":3.01,"x2":3.15,"y":481,"y2":544,"n":20},{"x":3.15,"x2":3.44,"y":481,"y2":544,"n":30},{"x":3.44,"x2":3.6,"y":481,"y2":544,"n":40},{"x":3.6,"x2":3.94,"y":481,"y2":544,"n":50},{"x":3.94,"x2":4.12,"y":481,"y2":544,"n":30},{"x":4.12,"x2":4.3,"y":481,"y2":544,"n":25},{"x":4.3,"x2":4.5,"y":481,"y2":544,"n":20},{"x":4.5,"x2":4.71,"y":481,"y2":544,"n":15},{"x":4.71,"x2":5.15,"y":481,"y2":544,"n":9},{"x":5.15,"x2":5.39,"y":481,"y2":544,"n":15},{"x":5.39,"x2":5.63,"y":481,"y2":544,"n":9},{"x":5.63,"x2":5.89,"y":481,"y2":544,"n":6},{"x":5.89,"x2":6.16,"y":481,"y2":544,"n":9},{"x":6.16,"x2":6.44,"y":481,"y2":544,"n":2},{"x":6.44,"x2":6.74,"y":481,"y2":544,"n":1},
{"x":1.93,"x2":2.01,"y":544,"y2":617,"n":1},{"x":2.01,"x2":2.11,"y":544,"y2":617,"n":6},{"x":2.11,"x2":2.2,"y":544,"y2":617,"n":3},{"x":2.2,"x2":2.41,"y":544,"y2":617,"n":9},{"x":2.41,"x2":2.63,"y":544,"y2":617,"n":12},{"x":2.63,"x2":2.75,"y":544,"y2":617,"n":15},{"x":2.75,"x2":2.88,"y":544,"y2":617,"n":30},{"x":2.88,"x2":3.01,"y":544,"y2":617,"n":20},{"x":3.01,"x2":3.15,"y":544,"y2":617,"n":15},{"x":3.15,"x2":3.29,"y":544,"y2":617,"n":25},{"x":3.29,"x2":3.6,"y":544,"y2":617,"n":30},{"x":3.6,"x2":3.94,"y":544,"y2":617,"n":50},{"x":3.94,"x2":4.12,"y":544,"y2":617,"n":40},{"x":4.12,"x2":4.3,"y":544,"y2":617,"n":30},{"x":4.3,"x2":4.5,"y":544,"y2":617,"n":25},{"x":4.5,"x2":4.71,"y":544,"y2":617,"n":30},{"x":4.71,"x2":4.92,"y":544,"y2":617,"n":25},{"x":4.92,"x2":5.39,"y":544,"y2":617,"n":9},{"x":5.39,"x2":5.63,"y":544,"y2":617,"n":12},{"x":5.63,"x2":6.16,"y":544,"y2":617,"n":9},{"x":6.16,"x2":6.44,"y":544,"y2":617,"n":6},{"x":6.44,"x2":6.74,"y":544,"y2":617,"n":2},
{"x":2.01,"x2":2.11,"y":617,"y2":698,"n":2},{"x":2.11,"x2":2.3,"y":617,"y2":698,"n":15},{"x":2.3,"x2":2.41,"y":617,"y2":698,"n":15},{"x":2.41,"x2":2.52,"y":617,"y2":698,"n":9},{"x":2.52,"x2":2.63,"y":617,"y2":698,"n":6},{"x":2.63,"x2":2.75,"y":617,"y2":698,"n":15},{"x":2.75,"x2":2.88,"y":617,"y2":698,"n":30},{"x":2.88,"x2":3.01,"y":617,"y2":698,"n":25},{"x":3.01,"x2":3.15,"y":617,"y2":698,"n":25},{"x":3.15,"x2":3.29,"y":617,"y2":698,"n":15},{"x":3.29,"x2":3.44,"y":617,"y2":698,"n":25},{"x":3.44,"x2":3.6,"y":617,"y2":698,"n":30},{"x":3.6,"x2":3.76,"y":617,"y2":698,"n":70},{"x":3.76,"x2":3.94,"y":617,"y2":698,"n":50},{"x":3.94,"x2":4.3,"y":617,"y2":698,"n":30},{"x":4.3,"x2":4.5,"y":617,"y2":698,"n":25},{"x":4.5,"x2":4.71,"y":617,"y2":698,"n":30},{"x":4.71,"x2":4.92,"y":617,"y2":698,"n":25},{"x":4.92,"x2":5.15,"y":617,"y2":698,"n":15},{"x":5.15,"x2":5.39,"y":617,"y2":698,"n":5},{"x":5.39,"x2":5.63,"y":617,"y2":698,"n":15},{"x":5.63,"x2":5.89,"y":617,"y2":698,"n":6},{"x":5.89,"x2":6.44,"y":617,"y2":698,"n":9},{"x":6.44,"x2":6.74,"y":617,"y2":698,"n":3},{"x":6.74,"x2":7.05,"y":617,"y2":698,"n":2},
{"x":2.01,"x2":2.11,"y":698,"y2":791,"n":15},{"x":2.11,"x2":2.2,"y":698,"y2":791,"n":30},{"x":2.2,"x2":2.3,"y":698,"y2":791,"n":20},{"x":2.3,"x2":2.52,"y":698,"y2":791,"n":15},{"x":2.52,"x2":2.63,"y":698,"y2":791,"n":9},{"x":2.63,"x2":2.75,"y":698,"y2":791,"n":15},{"x":2.75,"x2":2.88,"y":698,"y2":791,"n":25},{"x":2.88,"x2":3.01,"y":698,"y2":791,"n":30},{"x":3.01,"x2":3.15,"y":698,"y2":791,"n":25},{"x":3.15,"x2":3.29,"y":698,"y2":791,"n":30},{"x":3.29,"x2":3.44,"y":698,"y2":791,"n":25},{"x":3.44,"x2":3.6,"y":698,"y2":791,"n":60},{"x":3.6,"x2":3.76,"y":698,"y2":791,"n":80},{"x":3.76,"x2":3.94,"y":698,"y2":791,"n":70},{"x":3.94,"x2":4.3,"y":698,"y2":791,"n":130},{"x":4.3,"x2":4.5,"y":698,"y2":791,"n":120},{"x":4.5,"x2":4.71,"y":698,"y2":791,"n":30},{"x":4.71,"x2":4.92,"y":698,"y2":791,"n":15},{"x":4.92,"x2":5.15,"y":698,"y2":791,"n":25},{"x":5.15,"x2":5.39,"y":698,"y2":791,"n":5},{"x":5.39,"x2":5.89,"y":698,"y2":791,"n":2},{"x":5.89,"x2":6.16,"y":698,"y2":791,"n":1},
{"x":1.93,"x2":2.01,"y":791,"y2":895,"n":6},{"x":2.01,"x2":2.11,"y":791,"y2":895,"n":20},{"x":2.11,"x2":2.41,"y":791,"y2":895,"n":25},{"x":2.41,"x2":2.63,"y":791,"y2":895,"n":20},{"x":2.63,"x2":2.75,"y":791,"y2":895,"n":25},{"x":2.75,"x2":3.15,"y":791,"y2":895,"n":30},{"x":3.15,"x2":3.29,"y":791,"y2":895,"n":30},{"x":3.29,"x2":3.44,"y":791,"y2":895,"n":25},{"x":3.44,"x2":3.6,"y":791,"y2":895,"n":80},{"x":3.6,"x2":3.76,"y":791,"y2":895,"n":100},{"x":3.76,"x2":3.94,"y":791,"y2":895,"n":70},{"x":3.94,"x2":4.12,"y":791,"y2":895,"n":130},{"x":4.12,"x2":4.3,"y":791,"y2":895,"n":150},{"x":4.3,"x2":4.5,"y":791,"y2":895,"n":260},{"x":4.5,"x2":4.71,"y":791,"y2":895,"n":70},{"x":4.71,"x2":5.15,"y":791,"y2":895,"n":30},{"x":5.15,"x2":5.63,"y":791,"y2":895,"n":25},
{"x":2.01,"x2":2.11,"y":895,"y2":1014,"n":15},{"x":2.11,"x2":2.3,"y":895,"y2":1014,"n":20},{"x":2.3,"x2":2.63,"y":895,"y2":1014,"n":25},{"x":2.63,"x2":2.75,"y":895,"y2":1014,"n":20},{"x":2.75,"x2":3.15,"y":895,"y2":1014,"n":25},{"x":3.15,"x2":3.29,"y":895,"y2":1014,"n":30},{"x":3.29,"x2":3.44,"y":895,"y2":1014,"n":25},{"x":3.44,"x2":3.76,"y":895,"y2":1014,"n":100},{"x":3.76,"x2":3.94,"y":895,"y2":1014,"n":70},{"x":3.94,"x2":4.12,"y":895,"y2":1014,"n":130},{"x":4.12,"x2":4.3,"y":895,"y2":1014,"n":100},{"x":4.3,"x2":4.5,"y":895,"y2":1014,"n":60},{"x":4.5,"x2":4.71,"y":895,"y2":1014,"n":15},{"x":4.71,"x2":5.15,"y":895,"y2":1014,"n":20},{"x":5.15,"x2":5.39,"y":895,"y2":1014,"n":25},{"x":5.39,"x2":5.63,"y":895,"y2":1014,"n":5},
{"x":2.2,"x2":2.3,"y":1014,"y2":1148,"n":1},{"x":2.3,"x2":2.41,"y":1014,"y2":1148,"n":5},{"x":2.41,"x2":2.52,"y":1014,"y2":1148,"n":9},{"x":2.52,"x2":2.63,"y":1014,"y2":1148,"n":15},{"x":2.63,"x2":2.75,"y":1014,"y2":1148,"n":20},{"x":2.75,"x2":3.15,"y":1014,"y2":1148,"n":25},{"x":3.15,"x2":3.29,"y":1014,"y2":1148,"n":30},{"x":3.29,"x2":3.44,"y":1014,"y2":1148,"n":50},{"x":3.44,"x2":3.6,"y":1014,"y2":1148,"n":100},{"x":3.6,"x2":3.76,"y":1014,"y2":1148,"n":130},{"x":3.76,"x2":3.94,"y":1014,"y2":1148,"n":80},{"x":3.94,"x2":4.12,"y":1014,"y2":1148,"n":70},{"x":4.12,"x2":4.3,"y":1014,"y2":1148,"n":30},{"x":4.3,"x2":4.5,"y":1014,"y2":1148,"n":6},{"x":4.5,"x2":4.71,"y":1014,"y2":1148,"n":15},{"x":4.71,"x2":5.15,"y":1014,"y2":1148,"n":20},
{"x":2.3,"x2":2.41,"y":1148,"y2":1300,"n":5},{"x":2.41,"x2":2.52,"y":1148,"y2":1300,"n":3},{"x":2.52,"x2":2.63,"y":1148,"y2":1300,"n":15},{"x":2.63,"x2":2.75,"y":1148,"y2":1300,"n":9},{"x":2.75,"x2":2.88,"y":1148,"y2":1300,"n":15},{"x":2.88,"x2":3.01,"y":1148,"y2":1300,"n":25},{"x":3.01,"x2":3.29,"y":1148,"y2":1300,"n":65},{"x":3.29,"x2":3.44,"y":1148,"y2":1300,"n":40},{"x":3.44,"x2":3.76,"y":1148,"y2":1300,"n":60},{"x":3.76,"x2":4.3,"y":1148,"y2":1300,"n":60},{"x":4.3,"x2":4.5,"y":1148,"y2":1300,"n":40},{"x":4.5,"x2":4.71,"y":1148,"y2":1300,"n":9},{"x":4.71,"x2":5.15,"y":1148,"y2":1300,"n":15},
{"x":2.41,"x2":2.52,"y":1300,"y2":1472,"n":5},{"x":2.52,"x2":2.88,"y":1300,"y2":1472,"n":15},{"x":2.88,"x2":3.01,"y":1300,"y2":1472,"n":20},{"x":3.01,"x2":3.15,"y":1300,"y2":1472,"n":25},{"x":3.15,"x2":3.29,"y":1300,"y2":1472,"n":50},{"x":3.29,"x2":3.76,"y":1300,"y2":1472,"n":50},{"x":3.76,"x2":3.94,"y":1300,"y2":1472,"n":60},{"x":3.94,"x2":4.12,"y":1300,"y2":1472,"n":100},{"x":4.12,"x2":4.3,"y":1300,"y2":1472,"n":110},{"x":4.3,"x2":4.5,"y":1300,"y2":1472,"n":120},{"x":4.5,"x2":4.71,"y":1300,"y2":1472,"n":60},{"x":4.71,"x2":4.92,"y":1300,"y2":1472,"n":20},{"x":4.92,"x2":5.15,"y":1300,"y2":1472,"n":6},
{"x":2.41,"x2":2.52,"y":1472,"y2":1667,"n":5},{"x":2.52,"x2":2.88,"y":1472,"y2":1667,"n":15},{"x":2.88,"x2":3.15,"y":1472,"y2":1667,"n":20},{"x":3.15,"x2":3.29,"y":1472,"y2":1667,"n":30},{"x":3.29,"x2":3.76,"y":1472,"y2":1667,"n":40},{"x":3.76,"x2":3.94,"y":1472,"y2":1667,"n":50},{"x":3.94,"x2":4.12,"y":1472,"y2":1667,"n":70},{"x":4.12,"x2":4.3,"y":1472,"y2":1667,"n":170},{"x":4.3,"x2":4.5,"y":1472,"y2":1667,"n":130},{"x":4.5,"x2":4.71,"y":1472,"y2":1667,"n":50},{"x":4.71,"x2":4.92,"y":1472,"y2":1667,"n":6},
{"x":2.41,"x2":2.52,"y":1667,"y2":1888,"n":1},{"x":2.52,"x2":2.63,"y":1667,"y2":1888,"n":5},{"x":2.63,"x2":2.75,"y":1667,"y2":1888,"n":9},{"x":2.75,"x2":3.01,"y":1667,"y2":1888,"n":15},{"x":3.01,"x2":3.15,"y":1667,"y2":1888,"n":25},{"x":3.15,"x2":3.44,"y":1667,"y2":1888,"n":50},{"x":3.44,"x2":3.76,"y":1667,"y2":1888,"n":70},{"x":3.76,"x2":3.94,"y":1667,"y2":1888,"n":60},{"x":3.94,"x2":4.12,"y":1667,"y2":1888,"n":220},{"x":4.12,"x2":4.3,"y":1667,"y2":1888,"n":150},{"x":4.3,"x2":4.5,"y":1667,"y2":1888,"n":30},{"x":4.5,"x2":4.71,"y":1667,"y2":1888,"n":15},{"x":4.71,"x2":4.92,"y":1667,"y2":1888,"n":15},
{"x":2.52,"x2":2.75,"y":1888,"y2":2138,"n":5},{"x":2.75,"x2":2.88,"y":1888,"y2":2138,"n":6},{"x":2.88,"x2":3.01,"y":1888,"y2":2138,"n":20},{"x":3.01,"x2":3.15,"y":1888,"y2":2138,"n":15},{"x":3.15,"x2":3.29,"y":1888,"y2":2138,"n":20},{"x":3.29,"x2":3.44,"y":1888,"y2":2138,"n":30},{"x":3.44,"x2":3.6,"y":1888,"y2":2138,"n":70},{"x":3.6,"x2":3.76,"y":1888,"y2":2138,"n":80},{"x":3.76,"x2":3.94,"y":1888,"y2":2138,"n":60},{"x":3.94,"x2":4.12,"y":1888,"y2":2138,"n":190},{"x":4.12,"x2":4.3,"y":1888,"y2":2138,"n":100},{"x":4.3,"x2":4.5,"y":1888,"y2":2138,"n":40},{"x":4.5,"x2":4.71,"y":1888,"y2":2138,"n":20},{"x":4.71,"x2":4.92,"y":1888,"y2":2138,"n":15},
{"x":2.52,"x2":2.63,"y":2138,"y2":2421,"n":5},{"x":2.63,"x2":2.75,"y":2138,"y2":2421,"n":2},{"x":2.75,"x2":3.01,"y":2138,"y2":2421,"n":3},{"x":3.01,"x2":3.15,"y":2138,"y2":2421,"n":20},{"x":3.15,"x2":3.44,"y":2138,"y2":2421,"n":15},{"x":3.44,"x2":3.6,"y":2138,"y2":2421,"n":60},{"x":3.6,"x2":3.76,"y":2138,"y2":2421,"n":70},{"x":3.76,"x2":3.94,"y":2138,"y2":2421,"n":60},{"x":3.94,"x2":4.12,"y":2138,"y2":2421,"n":50},{"x":4.12,"x2":4.5,"y":2138,"y2":2421,"n":40},{"x":4.5,"x2":4.92,"y":2138,"y2":2421,"n":30},
{"x":2.52,"x2":2.63,"y":2421,"y2":2741,"n":2},{"x":2.63,"x2":2.75,"y":2421,"y2":2741,"n":6},{"x":2.75,"x2":2.88,"y":2421,"y2":2741,"n":1},{"x":2.88,"x2":3.01,"y":2421,"y2":2741,"n":3},{"x":3.01,"x2":3.15,"y":2421,"y2":2741,"n":9},{"x":3.15,"x2":3.44,"y":2421,"y2":2741,"n":15},{"x":3.44,"x2":3.6,"y":2421,"y2":2741,"n":25},{"x":3.6,"x2":3.94,"y":2421,"y2":2741,"n":40},{"x":3.94,"x2":4.12,"y":2421,"y2":2741,"n":25},{"x":4.12,"x2":4.3,"y":2421,"y2":2741,"n":20},{"x":4.3,"x2":4.5,"y":2421,"y2":2741,"n":25},{"x":4.5,"x2":4.92,"y":2421,"y2":2741,"n":60},
{"x":2.52,"x2":2.63,"y":2741,"y2":3104,"n":2},{"x":2.63,"x2":2.75,"y":2741,"y2":3104,"n":6},{"x":2.75,"x2":2.88,"y":2741,"y2":3104,"n":3},{"x":3.01,"x2":3.15,"y":2741,"y2":3104,"n":2},{"x":3.15,"x2":3.29,"y":2741,"y2":3104,"n":15},{"x":3.29,"x2":3.44,"y":2741,"y2":3104,"n":20},{"x":3.44,"x2":3.94,"y":2741,"y2":3104,"n":30},{"x":3.94,"x2":4.3,"y":2741,"y2":3104,"n":20},{"x":4.3,"x2":4.5,"y":2741,"y2":3104,"n":25},{"x":4.5,"x2":4.71,"y":2741,"y2":3104,"n":50},
{"x":2.63,"x2":2.75,"y":3104,"y2":3515,"n":12},{"x":2.75,"x2":2.88,"y":3104,"y2":3515,"n":3},{"x":2.88,"x2":3.15,"y":3104,"y2":3515,"n":2},{"x":3.15,"x2":3.29,"y":3104,"y2":3515,"n":6},{"x":3.29,"x2":3.44,"y":3104,"y2":3515,"n":25},{"x":3.44,"x2":3.94,"y":3104,"y2":3515,"n":30},{"x":3.94,"x2":4.12,"y":3104,"y2":3515,"n":25},{"x":4.12,"x2":4.5,"y":3104,"y2":3515,"n":22},
{"x":2.63,"x2":2.75,"y":3515,"y2":3980,"n":3},{"x":2.75,"x2":3.15,"y":3515,"y2":3980,"n":2},{"x":3.15,"x2":3.29,"y":3515,"y2":3980,"n":15},{"x":3.29,"x2":3.44,"y":3515,"y2":3980,"n":25},{"x":3.44,"x2":3.76,"y":3515,"y2":3980,"n":30},{"x":3.76,"x2":3.94,"y":3515,"y2":3980,"n":25},{"x":3.94,"x2":4.12,"y":3515,"y2":3980,"n":20},{"x":4.12,"x2":4.3,"y":3515,"y2":3980,"n":9},
{"x":2.63,"x2":2.75,"y":3980,"y2":4507,"n":12},{"x":2.75,"x2":2.88,"y":3980,"y2":4507,"n":2},{"x":2.88,"x2":3.01,"y":3980,"y2":4507,"n":2},{"x":3.01,"x2":3.15,"y":3980,"y2":4507,"n":2},{"x":3.15,"x2":3.29,"y":3980,"y2":4507,"n":15},{"x":3.29,"x2":3.44,"y":3980,"y2":4507,"n":25},{"x":3.44,"x2":3.76,"y":3980,"y2":4507,"n":40},{"x":3.76,"x2":3.94,"y":3980,"y2":4507,"n":25},{"x":3.94,"x2":4.12,"y":3980,"y2":4507,"n":2},
{"x":2.63,"x2":2.75,"y":4507,"y2":5104,"n":12},{"x":2.75,"x2":2.88,"y":4507,"y2":5104,"n":2},{"x":2.88,"x2":3.01,"y":4507,"y2":5104,"n":3},{"x":3.01,"x2":3.15,"y":4507,"y2":5104,"n":2},{"x":3.15,"x2":3.29,"y":4507,"y2":5104,"n":20},{"x":3.29,"x2":3.44,"y":4507,"y2":5104,"n":25},{"x":3.44,"x2":3.76,"y":4507,"y2":5104,"n":40},{"x":3.76,"x2":3.94,"y":4507,"y2":5104,"n":25},
{"x":2.63,"x2":2.75,"y":5104,"y2":5780,"n":3},{"x":2.75,"x2":3.01,"y":5104,"y2":5780,"n":2},{"x":3.01,"x2":3.15,"y":5104,"y2":5780,"n":15},{"x":3.15,"x2":3.29,"y":5104,"y2":5780,"n":30},{"x":3.29,"x2":3.44,"y":5104,"y2":5780,"n":25},{"x":3.44,"x2":3.76,"y":5104,"y2":5780,"n":40},{"x":3.76,"x2":3.94,"y":5104,"y2":5780,"n":20},
{"x":2.52,"x2":2.63,"y":5780,"y2":6545,"n":1},{"x":2.63,"x2":2.75,"y":5780,"y2":6545,"n":3},{"x":2.88,"x2":3.01,"y":5780,"y2":6545,"n":9},{"x":3.01,"x2":3.15,"y":5780,"y2":6545,"n":30},{"x":3.15,"x2":3.29,"y":5780,"y2":6545,"n":50},{"x":3.29,"x2":3.6,"y":5780,"y2":6545,"n":30},{"x":3.6,"x2":3.76,"y":5780,"y2":6545,"n":40},{"x":3.76,"x2":3.94,"y":5780,"y2":6545,"n":20},
{"x":2.52,"x2":2.63,"y":6545,"y2":7412,"n":9},{"x":2.63,"x2":2.75,"y":6545,"y2":7412,"n":3},{"x":2.75,"x2":2.88,"y":6545,"y2":7412,"n":5},{"x":2.88,"x2":3.01,"y":6545,"y2":7412,"n":9},{"x":3.01,"x2":3.15,"y":6545,"y2":7412,"n":20},{"x":3.15,"x2":3.6,"y":6545,"y2":7412,"n":30},{"x":3.6,"x2":3.76,"y":6545,"y2":7412,"n":40},{"x":3.76,"x2":3.94,"y":6545,"y2":7412,"n":2},
{"x":2.52,"x2":2.63,"y":7412,"y2":8393,"n":1},{"x":2.63,"x2":2.75,"y":7412,"y2":8393,"n":2},{"x":2.75,"x2":2.88,"y":7412,"y2":8393,"n":6},{"x":2.88,"x2":3.01,"y":7412,"y2":8393,"n":9},{"x":3.01,"x2":3.15,"y":7412,"y2":8393,"n":15},{"x":3.15,"x2":3.29,"y":7412,"y2":8393,"n":30},{"x":3.29,"x2":3.44,"y":7412,"y2":8393,"n":25},{"x":3.44,"x2":3.76,"y":7412,"y2":8393,"n":15},
{"x":2.52,"x2":2.63,"y":8393,"y2":9504,"n":9},{"x":2.63,"x2":2.75,"y":8393,"y2":9504,"n":2},{"x":2.75,"x2":2.88,"y":8393,"y2":9504,"n":6},{"x":2.88,"x2":3.01,"y":8393,"y2":9504,"n":9},{"x":3.01,"x2":3.15,"y":8393,"y2":9504,"n":15},{"x":3.15,"x2":3.29,"y":8393,"y2":9504,"n":30},{"x":3.29,"x2":3.44,"y":8393,"y2":9504,"n":20},{"x":3.44,"x2":3.76,"y":8393,"y2":9504,"n":15},
{"x":2.52,"x2":2.63,"y":9504,"y2":10760,"n":9},{"x":2.63,"x2":2.75,"y":9504,"y2":10760,"n":3},{"x":2.75,"x2":3.01,"y":9504,"y2":10760,"n":9},{"x":3.01,"x2":3.15,"y":9504,"y2":10760,"n":15},{"x":3.15,"x2":3.29,"y":9504,"y2":10760,"n":30},{"x":3.29,"x2":3.44,"y":9504,"y2":10760,"n":20},{"x":3.44,"x2":3.6,"y":9504,"y2":10760,"n":15},{"x":3.6,"x2":3.76,"y":9504,"y2":10760,"n":5},
{"x":2.52,"x2":2.63,"y":10760,"y2":12190,"n":1},{"x":2.63,"x2":2.75,"y":10760,"y2":12190,"n":5},{"x":2.75,"x2":2.88,"y":10760,"y2":12190,"n":6},{"x":2.88,"x2":3.15,"y":10760,"y2":12190,"n":15},{"x":3.15,"x2":3.29,"y":10760,"y2":12190,"n":30},{"x":3.29,"x2":3.44,"y":10760,"y2":12190,"n":15},{"x":3.44,"x2":3.6,"y":10760,"y2":12190,"n":6},
{"x":2.52,"x2":2.63,"y":12190,"y2":13800,"n":7},{"x":2.63,"x2":2.75,"y":12190,"y2":13800,"n":5},{"x":2.75,"x2":2.88,"y":12190,"y2":13800,"n":6},{"x":2.88,"x2":3.15,"y":12190,"y2":13800,"n":15},{"x":3.15,"x2":3.29,"y":12190,"y2":13800,"n":30},{"x":3.29,"x2":3.44,"y":12190,"y2":13800,"n":15},{"x":3.44,"x2":3.6,"y":12190,"y2":13800,"n":9},
{"x":2.52,"x2":2.63,"y":13800,"y2":15630,"n":7},{"x":2.63,"x2":2.75,"y":13800,"y2":15630,"n":2},{"x":2.75,"x2":2.88,"y":13800,"y2":15630,"n":6},{"x":2.88,"x2":3.01,"y":13800,"y2":15630,"n":12},{"x":3.01,"x2":3.15,"y":13800,"y2":15630,"n":20},{"x":3.15,"x2":3.29,"y":13800,"y2":15630,"n":30},{"x":3.29,"x2":3.44,"y":13800,"y2":15630,"n":15},{"x":3.44,"x2":3.6,"y":13800,"y2":15630,"n":2},
{"x":2.52,"x2":2.63,"y":15630,"y2":17700,"n":12},{"x":2.63,"x2":2.75,"y":15630,"y2":17700,"n":6},{"x":2.75,"x2":2.88,"y":15630,"y2":17700,"n":5},{"x":2.88,"x2":3.01,"y":15630,"y2":17700,"n":12},{"x":3.01,"x2":3.15,"y":15630,"y2":17700,"n":20},{"x":3.15,"x2":3.29,"y":15630,"y2":17700,"n":30},{"x":3.29,"x2":3.44,"y":15630,"y2":17700,"n":15},
{"x":2.52,"x2":2.63,"y":17700,"y2":20040,"n":2},{"x":2.63,"x2":2.75,"y":17700,"y2":20040,"n":6},{"x":2.75,"x2":2.88,"y":17700,"y2":20040,"n":3},{"x":2.88,"x2":3.01,"y":17700,"y2":20040,"n":12},{"x":3.01,"x2":3.15,"y":17700,"y2":20040,"n":25},{"x":3.15,"x2":3.29,"y":17700,"y2":20040,"n":30},{"x":3.29,"x2":3.44,"y":17700,"y2":20040,"n":9},
{"x":2.52,"x2":2.63,"y":20040,"y2":22690,"n":3},{"x":2.63,"x2":2.75,"y":20040,"y2":22690,"n":7},{"x":2.75,"x2":2.88,"y":20040,"y2":22690,"n":5},{"x":2.88,"x2":3.01,"y":20040,"y2":22690,"n":9},{"x":3.01,"x2":3.15,"y":20040,"y2":22690,"n":25},{"x":3.15,"x2":3.29,"y":20040,"y2":22690,"n":30},
{"x":2.63,"x2":2.75,"y":22690,"y2":25700,"n":12},{"x":2.75,"x2":2.88,"y":22690,"y2":25700,"n":6},{"x":2.88,"x2":3.01,"y":22690,"y2":25700,"n":9},{"x":3.01,"x2":3.15,"y":22690,"y2":25700,"n":20},{"x":3.15,"x2":3.29,"y":22690,"y2":25700,"n":25},
{"x":2.63,"x2":2.75,"y":25700,"y2":29100,"n":9},{"x":2.75,"x2":2.88,"y":25700,"y2":29100,"n":9},{"x":2.88,"x2":3.01,"y":25700,"y2":29100,"n":9},{"x":3.01,"x2":3.15,"y":25700,"y2":29100,"n":20},{"x":3.15,"x2":3.29,"y":25700,"y2":29100,"n":25},
{"x":2.75,"x2":2.88,"y":29100,"y2":32950,"n":15},{"x":2.88,"x2":3.01,"y":29100,"y2":32950,"n":9},{"x":3.01,"x2":3.15,"y":29100,"y2":32950,"n":20},{"x":3.15,"x2":3.29,"y":29100,"y2":32950,"n":2},
{"x":2.75,"x2":2.88,"y":32950,"y2":37310,"n":15},{"x":2.88,"x2":3.01,"y":32950,"y2":37310,"n":20},{"x":3.01,"x2":3.15,"y":32950,"y2":37310,"n":30}
]},"mark":{"type":"rect","strokeWidth":0.5},"encoding":{"x":{"field":"x","type":"quantitative","scale":{"type":"log","domain":[0.4008,10.95],"nice":false,"range":[0,908]},"axis":{"orient":"bottom","values":[1,10],"tickSize":-16,"labelPadding":20,"labelExpr":"datum.value==1?'10⁰':'10¹'","title":"W(HCN)/W(HNC)","titlePadding":0,"labelFlush":false}},"x2":{"field":"x2"},"y":{"field":"y","type":"quantitative","scale":{"type":"log","domain":[3.77,37300],"nice":false},"axis":{"orient":"left","values":[10,100,1000,10000],"tickSize":-16,"labelPadding":24,"labelExpr":"datum.value==10?'10¹':datum.value==100?'10²':datum.value==1000?'10³':'10⁴'","title":"G′₀","titleFontSize":48,"titleFontStyle":"italic","titlePadding":14}},"y2":{"field":"y2"},"color":{"field":"n","type":"quantitative","legend":null,"scale":{"type":"log","domain":[1,940],"scheme":"viridis"}},"stroke":{"field":"n","type":"quantitative","legend":null,"scale":{"type":"log","domain":[1,940],"scheme":"viridis"}}}},{"data":{"values":[{"x":1.174,"y":5.49},{"x":2.01,"y":12.2},{"x":2.48,"y":25.3},{"x":3.36,"y":50.1},{"x":3.48,"y":99},{"x":3.26,"y":194},{"x":3.61,"y":370},{"x":3.69,"y":724},{"x":3.88,"y":1400},{"x":3.96,"y":2700},{"x":3.66,"y":5220},{"x":3.35,"y":10100},{"x":3.21,"y":19500},{"x":3.05,"y":37300}]},"mark":{"type":"line","strokeWidth":5.5,"opacity":0.7,"clip":true,"color":"#000"},"encoding":{"x":{"field":"x","type":"quantitative","scale":{"type":"log","domain":[0.4008,10.95],"nice":false,"range":[0,908]},"axis":{"orient":"bottom","values":[0.5,0.6,0.7,0.8,0.9,2,3,4,5,6,7,8,9],"tickSize":-8,"labels":false,"title":null,"domain":false}},"y":{"field":"y","type":"quantitative","scale":{"type":"log","domain":[3.77,37300],"nice":false},"axis":{"orient":"left","values":[4,5,6,7,8,9,20,30,40,50,60,70,80,90,200,300,400,500,600,700,800,900,2000,3000,4000,5000,6000,7000,8000,9000,20000,30000],"tickSize":-8,"labels":false,"title":null,"domain":false}},"order":{"field":"y"},"strokeDash":{"datum":"running median","scale":{"range":[[19,8]]},"legend":{"title":null,"orient":"none","legendX":620,"legendY":17,"labelFont":"DejaVu Sans","labelFontSize":36,"labelOffset":26,"labelLimit":300,"labelExpr":"['running','median']","symbolSize":5184,"symbolStrokeWidth":5.5,"symbolStrokeColor":"#000","symbolOpacity":0.7,"symbolType":"stroke","fillColor":"white","strokeColor":"#ccc","cornerRadius":8,"padding":15,"encode":{"labels":{"update":{"dy":{"value":-20}}}}}}}},{"data":{"values":[{"lo":0.996,"hi":1.35,"y":5.49},{"lo":1.62,"hi":2.37,"y":12.2},{"lo":2,"hi":2.93,"y":25.3},{"lo":2.87,"hi":3.85,"y":50.1},{"lo":2.98,"hi":4.01,"y":99},{"lo":2.88,"hi":3.58,"y":194},{"lo":3.22,"hi":3.99,"y":370},{"lo":3.3,"hi":4.05,"y":724},{"lo":3.58,"hi":4.17,"y":1400},{"lo":3.77,"hi":4.19,"y":2700},{"lo":3.49,"hi":3.82,"y":5220},{"lo":3.23,"hi":3.48,"y":10100},{"lo":3.12,"hi":3.32,"y":19500}]},"mark":{"type":"rule","strokeWidth":2.5,"color":"#000","opacity":0.7},"encoding":{"x":{"field":"lo","type":"quantitative","scale":{"type":"log","domain":[0.4008,10.95],"nice":false,"range":[0,908]},"axis":{"orient":"top","values":[1,10],"tickSize":-16,"labels":false,"title":null}},"x2":{"field":"hi"},"y":{"field":"y","type":"quantitative","scale":{"type":"log","domain":[3.77,37300],"nice":false},"axis":null}}},{"data":{"values":[]},"mark":{"type":"rule"},"encoding":{"x":{"field":"lo","type":"quantitative","scale":{"type":"log","domain":[0.4008,10.95],"nice":false,"range":[0,908]},"axis":{"orient":"top","values":[0.5,0.6,0.7,0.8,0.9,2,3,4,5,6,7,8,9],"tickSize":-8,"labels":false,"title":null,"domain":false}}}},{"data":{"values":[{"y":1,"y2":1.12,"n":1.06},{"y":1.12,"y2":1.26,"n":1.19},{"y":1.26,"y2":1.41,"n":1.33},{"y":1.41,"y2":1.58,"n":1.5},{"y":1.58,"y2":1.78,"n":1.68},{"y":1.78,"y2":2,"n":1.88},{"y":2,"y2":2.24,"n":2.11},{"y":2.24,"y2":2.51,"n":2.37},{"y":2.51,"y2":2.82,"n":2.66},{"y":2.82,"y2":3.16,"n":2.99},{"y":3.16,"y2":3.55,"n":3.35},{"y":3.55,"y2":3.98,"n":3.76},{"y":3.98,"y2":4.47,"n":4.22},{"y":4.47,"y2":5.01,"n":4.73},{"y":5.01,"y2":5.62,"n":5.31},{"y":5.62,"y2":6.31,"n":5.96},{"y":6.31,"y2":7.08,"n":6.68},{"y":7.08,"y2":7.94,"n":7.5},{"y":7.94,"y2":8.91,"n":8.41},{"y":8.91,"y2":10,"n":9.44},{"y":10,"y2":11.2,"n":10.6},{"y":11.2,"y2":12.6,"n":11.9},{"y":12.6,"y2":14.1,"n":13.3},{"y":14.1,"y2":15.8,"n":15},{"y":15.8,"y2":17.8,"n":16.8},{"y":17.8,"y2":20,"n":18.8},{"y":20,"y2":22.4,"n":21.1},{"y":22.4,"y2":25.1,"n":23.7},{"y":25.1,"y2":28.2,"n":26.6},{"y":28.2,"y2":31.6,"n":29.9},{"y":31.6,"y2":35.5,"n":33.5},{"y":35.5,"y2":39.8,"n":37.6},{"y":39.8,"y2":44.7,"n":42.2},{"y":44.7,"y2":50.1,"n":47.3},{"y":50.1,"y2":56.2,"n":53.1},{"y":56.2,"y2":63.1,"n":59.6},{"y":63.1,"y2":70.8,"n":66.8},{"y":70.8,"y2":79.4,"n":75},{"y":79.4,"y2":89.1,"n":84.1},{"y":89.1,"y2":100,"n":94.4},{"y":100,"y2":112,"n":106},{"y":112,"y2":126,"n":119},{"y":126,"y2":141,"n":133},{"y":141,"y2":158,"n":150},{"y":158,"y2":178,"n":168},{"y":178,"y2":200,"n":188},{"y":200,"y2":224,"n":211},{"y":224,"y2":251,"n":237},{"y":251,"y2":282,"n":266},{"y":282,"y2":316,"n":299},{"y":316,"y2":355,"n":335},{"y":355,"y2":398,"n":376},{"y":398,"y2":447,"n":422},{"y":447,"y2":501,"n":473},{"y":501,"y2":562,"n":531},{"y":562,"y2":631,"n":596},{"y":631,"y2":708,"n":668},{"y":708,"y2":794,"n":750},{"y":794,"y2":891,"n":841},{"y":891,"y2":940,"n":915}]},"mark":{"type":"rect","strokeWidth":0.5},"encoding":{"x":{"datum":0,"type":"quantitative","scale":{"domain":[0,1],"range":[908,947]},"axis":null},"x2":{"datum":1},"y":{"field":"y","type":"quantitative","scale":{"type":"log","domain":[1,940],"nice":false},"axis":{"orient":"right","values":[1,10,100],"tickSize":16,"labelPadding":12,"labelFontSize":38,"labelExpr":"datum.value==1?'10⁰':datum.value==10?'10¹':'10²'","title":"pixels in Orion B map","titleFontSize":44,"titleAngle":90,"titlePadding":-6}},"y2":{"field":"y2"},"color":{"field":"n","type":"quantitative","legend":null,"scale":{"type":"log","domain":[1,940],"scheme":"viridis"}},"stroke":{"field":"n","type":"quantitative","legend":null,"scale":{"type":"log","domain":[1,940],"scheme":"viridis"}}}},{"data":{"values":[{"y":1,"y2":940}]},"mark":{"type":"rect","fillOpacity":0,"stroke":"#222","strokeWidth":2},"encoding":{"x":{"datum":0,"type":"quantitative","scale":{"domain":[0,1],"range":[908,947]},"axis":null},"x2":{"datum":1},"y":{"field":"y","type":"quantitative","scale":{"type":"log","domain":[1,940],"nice":false},"axis":{"orient":"right","values":[2,3,4,5,6,7,8,9,20,30,40,50,60,70,80,90,200,300,400,500,600,700,800,900],"tickSize":9,"labels":false,"title":null,"domain":false}},"y2":{"field":"y2"}}}],"resolve":{"scale":{"x":"independent","y":"independent"},"axis":{"x":"independent","y":"independent"}}}
